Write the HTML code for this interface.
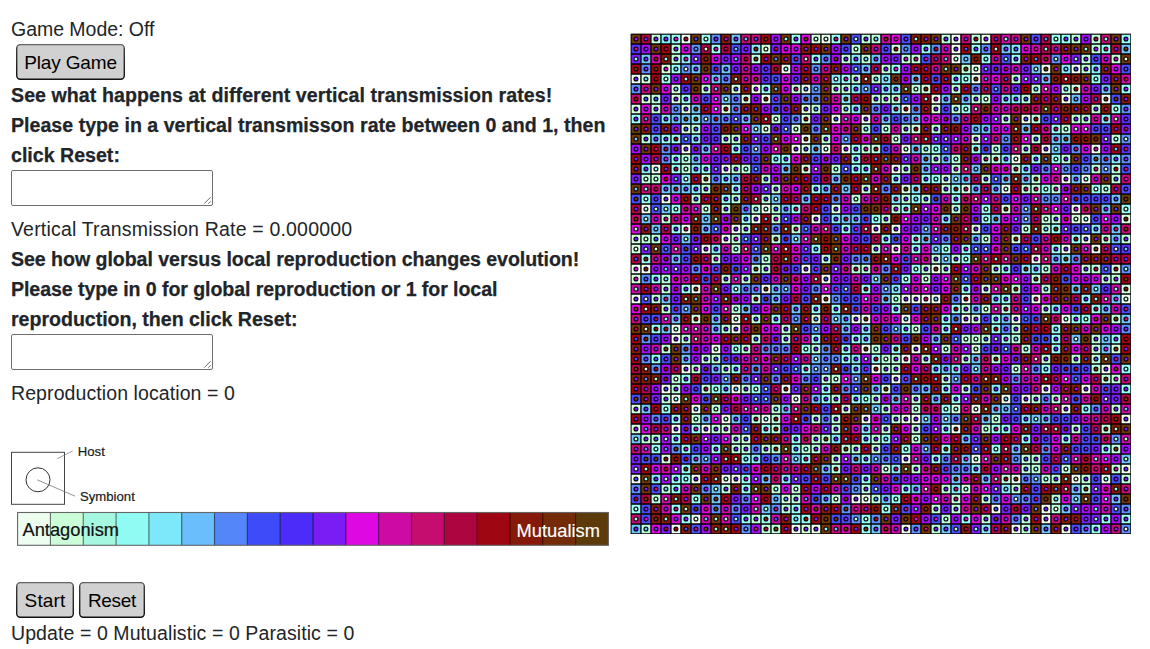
<!DOCTYPE html>
<html>
<head>
<meta charset="utf-8">
<title>Symbulation</title>
<style>
html,body{margin:0;padding:0;background:#fff;}
body{width:1150px;height:649px;position:relative;overflow:hidden;font-family:"Liberation Sans",sans-serif;color:#212529;}
.t{position:absolute;left:11px;white-space:nowrap;font-size:19px;line-height:30px;height:30px;}
.b{font-weight:700;font-size:19.6px;-webkit-text-stroke:0.25px #212529;}
.r{font-size:19.5px;}
.btn{position:absolute;height:36px;color:#000;font-size:19px;line-height:36px;text-align:center;white-space:nowrap;}
.btn svg{position:absolute;left:0;top:0;z-index:0}
.btn span{position:relative;z-index:1;top:0.9px}
.ta{position:absolute;box-sizing:border-box;border:1px solid #6e6e6e;border-radius:2px;background:#fff;left:11px;width:202px;height:36px;}
.ta svg{position:absolute;right:0;bottom:0;}
</style>
</head>
<body>
<svg width="0" height="0" style="position:absolute"><defs><linearGradient id="bg" x1="0" y1="0" x2="0" y2="1"><stop offset="0" stop-color="#666"/><stop offset="0.15" stop-color="#3a3a3a"/><stop offset="1" stop-color="#111"/></linearGradient></defs></svg>
<div class="t r" style="top:14px;letter-spacing:-0.03px">Game Mode: Off</div>
<div class="btn" style="left:16px;top:44px;width:109px;letter-spacing:-0.14px;"><svg width="109" height="36" viewBox="0 0 109 36"><rect x="0.7" y="0.6" width="107.6" height="34.6" rx="3.6" ry="3.6" fill="#d1d1d1" stroke="url(#bg)" stroke-width="1.4"/></svg><span>Play Game</span></div>
<div class="t b" style="top:80.4px;letter-spacing:0.059px">See what happens at different vertical transmission rates!</div>
<div class="t b" style="top:109.8px;letter-spacing:0.014px">Please type in a vertical transmisson rate between 0 and 1, then</div>
<div class="t b" style="top:139.8px;letter-spacing:0px">click Reset:</div>
<div class="ta" style="top:170px;"><svg width="10" height="10" viewBox="0 0 10 10"><path d="M2.2 8.6L8.7 2.1M6.3 8.6L8.7 6.4" stroke="#5a5a5a" stroke-width="0.9" fill="none"/></svg></div>
<div class="t r" style="top:214px;letter-spacing:0.186px">Vertical Transmission Rate = 0.000000</div>
<div class="t b" style="top:243.9px;letter-spacing:-0.057px">See how global versus local reproduction changes evolution!</div>
<div class="t b" style="top:273.9px;letter-spacing:-0.086px">Please type in 0 for global reproduction or 1 for local</div>
<div class="t b" style="top:303.8px;letter-spacing:-0.028px">reproduction, then click Reset:</div>
<div class="ta" style="top:334px;"><svg width="10" height="10" viewBox="0 0 10 10"><path d="M2.2 8.6L8.7 2.1M6.3 8.6L8.7 6.4" stroke="#5a5a5a" stroke-width="0.9" fill="none"/></svg></div>
<div class="t r" style="top:378px;letter-spacing:0.092px">Reproduction location = 0</div>

<!-- host / symbiont key -->
<svg style="position:absolute;left:0;top:440px" width="160" height="70" viewBox="0 440 160 70">
  <rect x="11.5" y="452.3" width="53" height="52" fill="#fff" stroke="#444" stroke-width="1"/>
  <circle cx="38" cy="479.8" r="12" fill="none" stroke="#333" stroke-width="1"/>
  <line x1="57.3" y1="458.6" x2="72.7" y2="451" stroke="#777" stroke-width="0.7"/>
  <line x1="37.1" y1="479.8" x2="75.1" y2="496.2" stroke="#666" stroke-width="0.7"/>
  <text x="77.8" y="455.9" font-family="Liberation Sans, sans-serif" font-size="13.15" fill="#1a1a1a" stroke="#1a1a1a" stroke-width="0.2">Host</text>
  <text x="80" y="500.8" font-family="Liberation Sans, sans-serif" font-size="13.15" fill="#1a1a1a" stroke="#1a1a1a" stroke-width="0.2">Symbiont</text>
</svg>

<!-- legend -->
<svg id="legend" style="position:absolute;left:16px;top:511px" width="594" height="36" viewBox="16 511 594 36">
<rect x="17.60" y="512.5" width="33.12" height="32.799999999999955" fill="#edfdf0"/>
<rect x="50.42" y="512.5" width="33.12" height="32.799999999999955" fill="#cbfdd8"/>
<rect x="83.24" y="512.5" width="33.12" height="32.799999999999955" fill="#a5f7df"/>
<rect x="116.07" y="512.5" width="33.12" height="32.799999999999955" fill="#8ffbf3"/>
<rect x="148.89" y="512.5" width="33.12" height="32.799999999999955" fill="#7de8fa"/>
<rect x="181.71" y="512.5" width="33.12" height="32.799999999999955" fill="#69befb"/>
<rect x="214.53" y="512.5" width="33.12" height="32.799999999999955" fill="#5485f9"/>
<rect x="247.36" y="512.5" width="33.12" height="32.799999999999955" fill="#3d4bf8"/>
<rect x="280.18" y="512.5" width="33.12" height="32.799999999999955" fill="#4b2cf9"/>
<rect x="313.00" y="512.5" width="33.12" height="32.799999999999955" fill="#7a1df5"/>
<rect x="345.82" y="512.5" width="33.12" height="32.799999999999955" fill="#de08e3"/>
<rect x="378.64" y="512.5" width="33.12" height="32.799999999999955" fill="#ce0aa4"/>
<rect x="411.47" y="512.5" width="33.12" height="32.799999999999955" fill="#c50c6f"/>
<rect x="444.29" y="512.5" width="33.12" height="32.799999999999955" fill="#ad0540"/>
<rect x="477.11" y="512.5" width="33.12" height="32.799999999999955" fill="#9e0612"/>
<rect x="509.93" y="512.5" width="33.12" height="32.799999999999955" fill="#85190a"/>
<rect x="542.76" y="512.5" width="33.12" height="32.799999999999955" fill="#732c07"/>
<rect x="575.58" y="512.5" width="33.12" height="32.799999999999955" fill="#5c3a09"/>
<path d="M50.42 512.5V545.3M83.24 512.5V545.3M116.07 512.5V545.3M148.89 512.5V545.3M181.71 512.5V545.3M214.53 512.5V545.3M247.36 512.5V545.3M280.18 512.5V545.3M313.00 512.5V545.3M345.82 512.5V545.3M378.64 512.5V545.3M411.47 512.5V545.3M444.29 512.5V545.3M477.11 512.5V545.3M509.93 512.5V545.3M542.76 512.5V545.3M575.58 512.5V545.3" stroke="#000" stroke-opacity="0.55" stroke-width="1.1" fill="none"/>
<rect x="17.6" y="512.5" width="590.8" height="32.799999999999955" fill="none" stroke="#666" stroke-width="1.1"/>
<text x="22.5" y="535.9" font-family="Liberation Sans, sans-serif" font-size="18.3" fill="#111" stroke="#111" stroke-width="0.2">Antagonism</text>
<text x="516.6" y="537.3" font-family="Liberation Sans, sans-serif" font-size="18.3" fill="#fff" stroke="#fff" stroke-width="0.15">Mutualism</text>
</svg>

<div class="btn" style="left:16px;top:582px;width:58px;letter-spacing:0.15px;"><svg width="58" height="36" viewBox="0 0 58 36"><rect x="0.7" y="0.6" width="56.6" height="34.6" rx="3.6" ry="3.6" fill="#d1d1d1" stroke="url(#bg)" stroke-width="1.4"/></svg><span>Start</span></div>
<div class="btn" style="left:79px;top:582px;width:66px;letter-spacing:-0.3px;"><svg width="66" height="36" viewBox="0 0 66 36"><rect x="0.7" y="0.6" width="64.6" height="34.6" rx="3.6" ry="3.6" fill="#d1d1d1" stroke="url(#bg)" stroke-width="1.4"/></svg><span>Reset</span></div>
<div class="t r" style="top:617.8px;letter-spacing:0.089px">Update = 0 Mutualistic = 0 Parasitic = 0</div>

<!-- GRID -->
<svg id="grid" style="position:absolute;left:630px;top:33px;filter:blur(0.32px)" width="502" height="502" viewBox="0 0 502 502"><svg x="0.44" y="0.5" width="500.5" height="500.5" viewBox="-0.5 -0.5 500.5 500.5" overflow="hidden">
<path fill="#EFFDF0" d="M50 0h10v10h-10zM190 0h10v10h-10zM320 0h10v10h-10zM350 0h10v10h-10zM320 10h10v10h-10zM320 20h10v10h-10zM150 30h10v10h-10zM340 30h10v10h-10zM410 30h10v10h-10zM440 30h10v10h-10zM0 40h10v10h-10zM340 40h10v10h-10zM120 50h10v10h-10zM170 50h10v10h-10zM130 60h10v10h-10zM300 60h10v10h-10zM430 60h10v10h-10zM470 60h10v10h-10zM270 70h10v10h-10zM200 80h10v10h-10zM230 80h10v10h-10zM390 80h10v10h-10zM170 100h10v10h-10zM50 110h10v10h-10zM160 110h10v10h-10zM190 110h10v10h-10zM210 110h10v10h-10zM270 110h10v10h-10zM410 110h10v10h-10zM460 110h10v10h-10zM380 120h10v10h-10zM20 130h10v10h-10zM90 130h10v10h-10zM260 130h10v10h-10zM430 140h10v10h-10zM450 140h10v10h-10zM370 150h10v10h-10zM30 160h10v10h-10zM10 170h10v10h-10zM130 170h10v10h-10zM440 170h10v10h-10zM120 180h10v10h-10zM180 180h10v10h-10zM450 180h10v10h-10zM50 190h10v10h-10zM100 190h10v10h-10zM240 190h10v10h-10zM260 190h10v10h-10zM90 200h10v10h-10zM450 200h10v10h-10zM70 210h10v10h-10zM260 210h10v10h-10zM430 210h10v10h-10zM460 210h10v10h-10zM400 220h10v10h-10zM0 230h10v10h-10zM10 230h10v10h-10zM170 230h10v10h-10zM300 230h10v10h-10zM190 240h10v10h-10zM60 250h10v10h-10zM130 250h10v10h-10zM0 260h10v10h-10zM190 260h10v10h-10zM270 260h10v10h-10zM280 260h10v10h-10zM290 260h10v10h-10zM300 260h10v10h-10zM330 260h10v10h-10zM400 260h10v10h-10zM490 260h10v10h-10zM100 280h10v10h-10zM220 280h10v10h-10zM230 280h10v10h-10zM270 280h10v10h-10zM330 280h10v10h-10zM380 280h10v10h-10zM430 280h10v10h-10zM40 290h10v10h-10zM100 290h10v10h-10zM40 300h10v10h-10zM80 310h10v10h-10zM230 310h10v10h-10zM280 310h10v10h-10zM270 320h10v10h-10zM50 330h10v10h-10zM240 330h10v10h-10zM470 330h10v10h-10zM260 340h10v10h-10zM30 350h10v10h-10zM100 350h10v10h-10zM150 350h10v10h-10zM410 350h10v10h-10zM450 350h10v10h-10zM40 360h10v10h-10zM160 360h10v10h-10zM370 360h10v10h-10zM390 360h10v10h-10zM60 370h10v10h-10zM340 370h10v10h-10zM430 370h10v10h-10zM90 380h10v10h-10zM130 380h10v10h-10zM230 380h10v10h-10zM270 380h10v10h-10zM280 380h10v10h-10zM490 380h10v10h-10zM40 390h10v10h-10zM70 390h10v10h-10zM320 390h10v10h-10zM270 420h10v10h-10zM340 420h10v10h-10zM490 430h10v10h-10zM0 440h10v10h-10zM60 440h10v10h-10zM90 440h10v10h-10zM100 440h10v10h-10zM380 440h10v10h-10zM440 440h10v10h-10zM470 440h10v10h-10zM220 460h10v10h-10zM230 460h10v10h-10zM360 470h10v10h-10zM410 470h10v10h-10zM60 480h10v10h-10zM410 480h10v10h-10zM40 490h10v10h-10zM160 490h10v10h-10zM180 490h10v10h-10zM270 490h10v10h-10zM380 490h10v10h-10zM430 490h10v10h-10z"/>
<path fill="#D4FFDD" d="M180 0h10v10h-10zM130 10h10v10h-10zM260 10h10v10h-10zM30 30h10v10h-10zM10 40h10v10h-10zM40 50h10v10h-10zM100 50h10v10h-10zM290 50h10v10h-10zM440 50h10v10h-10zM10 60h10v10h-10zM40 60h10v10h-10zM110 60h10v10h-10zM0 70h10v10h-10zM50 70h10v10h-10zM90 70h10v10h-10zM170 70h10v10h-10zM300 70h10v10h-10zM170 80h10v10h-10zM50 90h10v10h-10zM130 90h10v10h-10zM160 90h10v10h-10zM280 90h10v10h-10zM340 100h10v10h-10zM170 110h10v10h-10zM170 130h10v10h-10zM70 140h10v10h-10zM310 140h10v10h-10zM270 150h10v10h-10zM330 150h10v10h-10zM200 170h10v10h-10zM370 170h10v10h-10zM440 180h10v10h-10zM490 180h10v10h-10zM340 190h10v10h-10zM0 200h10v10h-10zM380 200h10v10h-10zM0 210h10v10h-10zM480 230h10v10h-10zM0 240h10v10h-10zM350 250h10v10h-10zM490 250h10v10h-10zM60 280h10v10h-10zM180 280h10v10h-10zM340 280h10v10h-10zM340 310h10v10h-10zM480 310h10v10h-10zM250 350h10v10h-10zM0 370h10v10h-10zM210 370h10v10h-10zM320 370h10v10h-10zM0 390h10v10h-10zM90 390h10v10h-10zM110 400h10v10h-10zM30 420h10v10h-10zM330 450h10v10h-10zM150 460h10v10h-10zM170 490h10v10h-10z"/>
<path fill="#BBFFDB" d="M20 0h10v10h-10zM230 0h10v10h-10zM240 0h10v10h-10zM310 0h10v10h-10zM340 0h10v10h-10zM440 0h10v10h-10zM460 0h10v10h-10zM40 10h10v10h-10zM220 10h10v10h-10zM460 10h10v10h-10zM40 20h10v10h-10zM120 20h10v10h-10zM210 20h10v10h-10zM230 20h10v10h-10zM270 20h10v10h-10zM280 20h10v10h-10zM450 20h10v10h-10zM480 20h10v10h-10zM250 30h10v10h-10zM330 30h10v10h-10zM450 30h10v10h-10zM220 40h10v10h-10zM240 40h10v10h-10zM380 40h10v10h-10zM70 50h10v10h-10zM160 50h10v10h-10zM200 50h10v10h-10zM210 50h10v10h-10zM280 50h10v10h-10zM320 50h10v10h-10zM400 50h10v10h-10zM430 50h10v10h-10zM20 60h10v10h-10zM240 60h10v10h-10zM250 60h10v10h-10zM260 60h10v10h-10zM340 60h10v10h-10zM350 60h10v10h-10zM390 60h10v10h-10zM20 70h10v10h-10zM180 70h10v10h-10zM210 70h10v10h-10zM320 70h10v10h-10zM460 70h10v10h-10zM140 80h10v10h-10zM370 80h10v10h-10zM400 80h10v10h-10zM440 80h10v10h-10zM450 80h10v10h-10zM60 90h10v10h-10zM230 90h10v10h-10zM250 90h10v10h-10zM270 90h10v10h-10zM300 90h10v10h-10zM430 90h10v10h-10zM10 100h10v10h-10zM90 100h10v10h-10zM100 100h10v10h-10zM190 100h10v10h-10zM260 100h10v10h-10zM400 100h10v10h-10zM480 100h10v10h-10zM230 110h10v10h-10zM240 110h10v10h-10zM290 110h10v10h-10zM360 110h10v10h-10zM390 110h10v10h-10zM50 120h10v10h-10zM300 120h10v10h-10zM320 120h10v10h-10zM350 120h10v10h-10zM360 120h10v10h-10zM430 120h10v10h-10zM50 130h10v10h-10zM100 130h10v10h-10zM110 130h10v10h-10zM200 130h10v10h-10zM270 130h10v10h-10zM320 130h10v10h-10zM380 130h10v10h-10zM460 130h10v10h-10zM480 130h10v10h-10zM10 140h10v10h-10zM20 140h10v10h-10zM130 140h10v10h-10zM350 140h10v10h-10zM400 140h10v10h-10zM480 140h10v10h-10zM70 150h10v10h-10zM140 150h10v10h-10zM230 150h10v10h-10zM310 150h10v10h-10zM390 150h10v10h-10zM400 150h10v10h-10zM420 150h10v10h-10zM470 150h10v10h-10zM60 160h10v10h-10zM100 160h10v10h-10zM130 160h10v10h-10zM220 160h10v10h-10zM270 160h10v10h-10zM290 160h10v10h-10zM70 170h10v10h-10zM90 170h10v10h-10zM120 170h10v10h-10zM140 170h10v10h-10zM260 170h10v10h-10zM320 170h10v10h-10zM30 180h10v10h-10zM140 180h10v10h-10zM250 180h10v10h-10zM410 180h10v10h-10zM420 180h10v10h-10zM110 190h10v10h-10zM160 190h10v10h-10zM390 190h10v10h-10zM410 190h10v10h-10zM10 200h10v10h-10zM20 200h10v10h-10zM100 200h10v10h-10zM140 200h10v10h-10zM350 200h10v10h-10zM470 200h10v10h-10zM490 200h10v10h-10zM100 210h10v10h-10zM240 210h10v10h-10zM80 220h10v10h-10zM130 220h10v10h-10zM190 220h10v10h-10zM300 220h10v10h-10zM320 220h10v10h-10zM120 230h10v10h-10zM130 230h10v10h-10zM220 230h10v10h-10zM230 230h10v10h-10zM290 230h10v10h-10zM310 230h10v10h-10zM360 230h10v10h-10zM410 230h10v10h-10zM450 230h10v10h-10zM460 230h10v10h-10zM30 240h10v10h-10zM90 240h10v10h-10zM110 240h10v10h-10zM290 240h10v10h-10zM400 240h10v10h-10zM470 240h10v10h-10zM480 240h10v10h-10zM30 250h10v10h-10zM380 250h10v10h-10zM410 250h10v10h-10zM20 260h10v10h-10zM120 260h10v10h-10zM260 260h10v10h-10zM30 270h10v10h-10zM100 270h10v10h-10zM330 270h10v10h-10zM350 270h10v10h-10zM370 270h10v10h-10zM410 270h10v10h-10zM120 280h10v10h-10zM480 280h10v10h-10zM90 290h10v10h-10zM150 290h10v10h-10zM280 290h10v10h-10zM380 290h10v10h-10zM50 300h10v10h-10zM120 300h10v10h-10zM150 300h10v10h-10zM330 300h10v10h-10zM340 300h10v10h-10zM350 300h10v10h-10zM380 300h10v10h-10zM460 300h10v10h-10zM30 310h10v10h-10zM110 310h10v10h-10zM180 310h10v10h-10zM240 310h10v10h-10zM310 310h10v10h-10zM390 310h10v10h-10zM460 310h10v10h-10zM70 320h10v10h-10zM80 320h10v10h-10zM250 320h10v10h-10zM260 320h10v10h-10zM290 320h10v10h-10zM330 320h10v10h-10zM360 320h10v10h-10zM410 320h10v10h-10zM440 320h10v10h-10zM460 320h10v10h-10zM60 330h10v10h-10zM90 330h10v10h-10zM250 330h10v10h-10zM260 330h10v10h-10zM380 330h10v10h-10zM460 330h10v10h-10zM40 340h10v10h-10zM190 340h10v10h-10zM200 340h10v10h-10zM310 340h10v10h-10zM470 340h10v10h-10zM480 340h10v10h-10zM40 350h10v10h-10zM70 350h10v10h-10zM110 350h10v10h-10zM330 350h10v10h-10zM30 360h10v10h-10zM200 360h10v10h-10zM240 360h10v10h-10zM280 360h10v10h-10zM400 360h10v10h-10zM420 360h10v10h-10zM80 370h10v10h-10zM140 370h10v10h-10zM250 370h10v10h-10zM280 370h10v10h-10zM480 370h10v10h-10zM60 380h10v10h-10zM120 380h10v10h-10zM140 380h10v10h-10zM180 380h10v10h-10zM200 380h10v10h-10zM260 380h10v10h-10zM360 380h10v10h-10zM80 390h10v10h-10zM140 390h10v10h-10zM200 390h10v10h-10zM250 390h10v10h-10zM280 390h10v10h-10zM350 390h10v10h-10zM440 390h10v10h-10zM470 390h10v10h-10zM10 400h10v10h-10zM20 400h10v10h-10zM100 400h10v10h-10zM180 400h10v10h-10zM190 400h10v10h-10zM240 400h10v10h-10zM280 400h10v10h-10zM100 410h10v10h-10zM110 410h10v10h-10zM130 410h10v10h-10zM140 410h10v10h-10zM170 410h10v10h-10zM180 410h10v10h-10zM210 410h10v10h-10zM220 410h10v10h-10zM240 410h10v10h-10zM480 410h10v10h-10zM200 420h10v10h-10zM390 420h10v10h-10zM400 420h10v10h-10zM200 430h10v10h-10zM250 430h10v10h-10zM280 430h10v10h-10zM390 430h10v10h-10zM400 430h10v10h-10zM430 430h10v10h-10zM480 430h10v10h-10zM370 440h10v10h-10zM410 440h10v10h-10zM420 440h10v10h-10zM450 440h10v10h-10zM490 440h10v10h-10zM30 450h10v10h-10zM90 450h10v10h-10zM140 450h10v10h-10zM160 450h10v10h-10zM230 450h10v10h-10zM310 450h10v10h-10zM380 450h10v10h-10zM450 450h10v10h-10zM20 460h10v10h-10zM160 460h10v10h-10zM200 460h10v10h-10zM240 460h10v10h-10zM320 460h10v10h-10zM350 460h10v10h-10zM420 460h10v10h-10zM150 470h10v10h-10zM300 470h10v10h-10zM320 470h10v10h-10zM420 470h10v10h-10zM120 480h10v10h-10zM310 480h10v10h-10zM350 480h10v10h-10zM390 480h10v10h-10zM10 490h10v10h-10zM130 490h10v10h-10zM140 490h10v10h-10zM300 490h10v10h-10zM390 490h10v10h-10z"/>
<path fill="#96FFF7" d="M40 0h10v10h-10zM70 0h10v10h-10zM160 0h10v10h-10zM200 0h10v10h-10zM420 0h10v10h-10zM430 0h10v10h-10zM490 0h10v10h-10zM80 10h10v10h-10zM290 10h10v10h-10zM340 10h10v10h-10zM470 10h10v10h-10zM180 20h10v10h-10zM350 20h10v10h-10zM380 20h10v10h-10zM40 30h10v10h-10zM260 30h10v10h-10zM30 40h10v10h-10zM210 40h10v10h-10zM320 40h10v10h-10zM330 40h10v10h-10zM460 40h10v10h-10zM130 50h10v10h-10zM490 50h10v10h-10zM50 60h10v10h-10zM330 70h10v10h-10zM480 70h10v10h-10zM0 80h10v10h-10zM420 90h10v10h-10zM30 100h10v10h-10zM40 100h10v10h-10zM100 110h10v10h-10zM220 110h10v10h-10zM300 110h10v10h-10zM340 110h10v10h-10zM40 120h10v10h-10zM140 120h10v10h-10zM150 120h10v10h-10zM220 120h10v10h-10zM400 120h10v10h-10zM420 120h10v10h-10zM40 130h10v10h-10zM70 130h10v10h-10zM220 130h10v10h-10zM230 130h10v10h-10zM260 140h10v10h-10zM290 140h10v10h-10zM300 140h10v10h-10zM100 150h10v10h-10zM180 150h10v10h-10zM320 150h10v10h-10zM410 150h10v10h-10zM460 150h10v10h-10zM10 160h10v10h-10zM90 160h10v10h-10zM280 160h10v10h-10zM320 160h10v10h-10zM40 170h10v10h-10zM160 170h10v10h-10zM270 170h10v10h-10zM350 170h10v10h-10zM490 170h10v10h-10zM110 180h10v10h-10zM240 180h10v10h-10zM350 180h10v10h-10zM40 190h10v10h-10zM210 190h10v10h-10zM420 190h10v10h-10zM250 200h10v10h-10zM280 200h10v10h-10zM440 200h10v10h-10zM180 210h10v10h-10zM280 210h10v10h-10zM310 210h10v10h-10zM330 210h10v10h-10zM420 210h10v10h-10zM10 220h10v10h-10zM330 220h10v10h-10zM280 230h10v10h-10zM370 230h10v10h-10zM20 240h10v10h-10zM270 240h10v10h-10zM50 250h10v10h-10zM230 250h10v10h-10zM330 250h10v10h-10zM370 260h10v10h-10zM450 260h10v10h-10zM180 270h10v10h-10zM200 270h10v10h-10zM260 270h10v10h-10zM320 270h10v10h-10zM460 270h10v10h-10zM140 280h10v10h-10zM310 280h10v10h-10zM360 280h10v10h-10zM440 280h10v10h-10zM450 280h10v10h-10zM20 290h10v10h-10zM270 290h10v10h-10zM310 290h10v10h-10zM360 290h10v10h-10zM420 290h10v10h-10zM180 300h10v10h-10zM220 300h10v10h-10zM370 300h10v10h-10zM420 300h10v10h-10zM480 300h10v10h-10zM100 310h10v10h-10zM170 310h10v10h-10zM210 310h10v10h-10zM260 310h10v10h-10zM420 310h10v10h-10zM20 320h10v10h-10zM210 320h10v10h-10zM240 320h10v10h-10zM100 330h10v10h-10zM170 330h10v10h-10zM410 330h10v10h-10zM490 330h10v10h-10zM50 340h10v10h-10zM80 350h10v10h-10zM120 350h10v10h-10zM190 350h10v10h-10zM310 350h10v10h-10zM490 350h10v10h-10zM190 360h10v10h-10zM220 360h10v10h-10zM230 360h10v10h-10zM320 360h10v10h-10zM30 370h10v10h-10zM310 370h10v10h-10zM450 370h10v10h-10zM40 380h10v10h-10zM60 390h10v10h-10zM130 390h10v10h-10zM310 390h10v10h-10zM360 390h10v10h-10zM370 390h10v10h-10zM40 400h10v10h-10zM160 400h10v10h-10zM230 400h10v10h-10zM250 400h10v10h-10zM390 400h10v10h-10zM430 400h10v10h-10zM20 410h10v10h-10zM50 410h10v10h-10zM80 410h10v10h-10zM160 410h10v10h-10zM270 410h10v10h-10zM310 410h10v10h-10zM360 410h10v10h-10zM470 410h10v10h-10zM110 420h10v10h-10zM170 420h10v10h-10zM230 420h10v10h-10zM300 420h10v10h-10zM50 430h10v10h-10zM40 440h10v10h-10zM50 440h10v10h-10zM110 440h10v10h-10zM230 440h10v10h-10zM40 450h10v10h-10zM110 450h10v10h-10zM270 450h10v10h-10zM60 460h10v10h-10zM260 460h10v10h-10zM0 470h10v10h-10zM40 470h10v10h-10zM160 470h10v10h-10zM250 470h10v10h-10zM50 480h10v10h-10zM110 480h10v10h-10zM130 480h10v10h-10zM160 480h10v10h-10zM170 480h10v10h-10zM230 480h10v10h-10zM330 480h10v10h-10zM470 480h10v10h-10zM490 480h10v10h-10zM230 490h10v10h-10zM460 490h10v10h-10z"/>
<path fill="#86E9FE" d="M30 0h10v10h-10zM120 10h10v10h-10zM380 10h10v10h-10zM50 20h10v10h-10zM220 20h10v10h-10zM430 30h10v10h-10zM460 30h10v10h-10zM200 40h10v10h-10zM250 40h10v10h-10zM220 50h10v10h-10zM250 50h10v10h-10zM260 50h10v10h-10zM210 60h10v10h-10zM370 60h10v10h-10zM380 60h10v10h-10zM220 70h10v10h-10zM260 70h10v10h-10zM30 80h10v10h-10zM60 80h10v10h-10zM470 80h10v10h-10zM60 100h10v10h-10zM370 120h10v10h-10zM480 120h10v10h-10zM10 130h10v10h-10zM60 130h10v10h-10zM390 130h10v10h-10zM50 140h10v10h-10zM90 140h10v10h-10zM60 150h10v10h-10zM280 150h10v10h-10zM260 160h10v10h-10zM200 180h10v10h-10zM310 180h10v10h-10zM460 190h10v10h-10zM80 210h10v10h-10zM430 220h10v10h-10zM390 230h10v10h-10zM400 230h10v10h-10zM100 250h10v10h-10zM260 250h10v10h-10zM360 260h10v10h-10zM420 270h10v10h-10zM230 290h10v10h-10zM230 300h10v10h-10zM220 320h10v10h-10zM220 330h10v10h-10zM300 330h10v10h-10zM320 330h10v10h-10zM90 350h10v10h-10zM360 350h10v10h-10zM390 380h10v10h-10zM230 390h10v10h-10zM200 400h10v10h-10zM120 420h10v10h-10zM260 430h10v10h-10zM340 430h10v10h-10zM20 440h10v10h-10zM150 440h10v10h-10zM320 450h10v10h-10zM370 450h10v10h-10zM350 490h10v10h-10z"/>
<path fill="#6FC4FE" d="M100 0h10v10h-10zM370 10h10v10h-10zM490 10h10v10h-10zM10 20h10v10h-10zM240 20h10v10h-10zM330 20h10v10h-10zM60 30h10v10h-10zM90 30h10v10h-10zM230 30h10v10h-10zM400 30h10v10h-10zM80 40h10v10h-10zM280 40h10v10h-10zM410 40h10v10h-10zM470 50h10v10h-10zM90 60h10v10h-10zM310 60h10v10h-10zM330 60h10v10h-10zM440 60h10v10h-10zM60 70h10v10h-10zM40 80h10v10h-10zM50 80h10v10h-10zM110 80h10v10h-10zM250 80h10v10h-10zM280 80h10v10h-10zM120 90h10v10h-10zM340 90h10v10h-10zM350 90h10v10h-10zM390 90h10v10h-10zM20 100h10v10h-10zM420 100h10v10h-10zM430 100h10v10h-10zM70 110h10v10h-10zM180 110h10v10h-10zM280 110h10v10h-10zM420 110h10v10h-10zM60 120h10v10h-10zM290 120h10v10h-10zM310 120h10v10h-10zM460 120h10v10h-10zM150 130h10v10h-10zM290 130h10v10h-10zM340 130h10v10h-10zM100 140h10v10h-10zM200 140h10v10h-10zM320 140h10v10h-10zM330 140h10v10h-10zM370 140h10v10h-10zM390 140h10v10h-10zM440 140h10v10h-10zM30 150h10v10h-10zM40 150h10v10h-10zM50 150h10v10h-10zM190 150h10v10h-10zM210 150h10v10h-10zM340 150h10v10h-10zM360 150h10v10h-10zM140 160h10v10h-10zM170 160h10v10h-10zM480 160h10v10h-10zM30 170h10v10h-10zM150 170h10v10h-10zM470 170h10v10h-10zM10 180h10v10h-10zM70 180h10v10h-10zM210 180h10v10h-10zM220 180h10v10h-10zM360 180h10v10h-10zM20 190h10v10h-10zM70 190h10v10h-10zM480 190h10v10h-10zM50 200h10v10h-10zM160 200h10v10h-10zM290 200h10v10h-10zM340 200h10v10h-10zM480 200h10v10h-10zM300 210h10v10h-10zM40 220h10v10h-10zM310 220h10v10h-10zM420 220h10v10h-10zM240 240h10v10h-10zM140 250h10v10h-10zM440 250h10v10h-10zM460 250h10v10h-10zM30 260h10v10h-10zM140 260h10v10h-10zM250 260h10v10h-10zM480 260h10v10h-10zM110 270h10v10h-10zM160 270h10v10h-10zM340 270h10v10h-10zM470 270h10v10h-10zM40 280h10v10h-10zM80 280h10v10h-10zM200 280h10v10h-10zM210 280h10v10h-10zM370 280h10v10h-10zM490 280h10v10h-10zM30 290h10v10h-10zM80 290h10v10h-10zM210 290h10v10h-10zM300 300h10v10h-10zM440 300h10v10h-10zM470 300h10v10h-10zM470 310h10v10h-10zM50 320h10v10h-10zM180 320h10v10h-10zM340 320h10v10h-10zM80 330h10v10h-10zM310 330h10v10h-10zM340 330h10v10h-10zM240 350h10v10h-10zM290 350h10v10h-10zM180 360h10v10h-10zM260 360h10v10h-10zM300 360h10v10h-10zM10 370h10v10h-10zM150 370h10v10h-10zM240 370h10v10h-10zM360 370h10v10h-10zM370 370h10v10h-10zM70 380h10v10h-10zM100 380h10v10h-10zM290 380h10v10h-10zM310 380h10v10h-10zM350 380h10v10h-10zM400 380h10v10h-10zM410 380h10v10h-10zM0 400h10v10h-10zM330 400h10v10h-10zM380 410h10v10h-10zM60 420h10v10h-10zM160 420h10v10h-10zM220 420h10v10h-10zM330 420h10v10h-10zM490 420h10v10h-10zM190 430h10v10h-10zM130 440h10v10h-10zM320 440h10v10h-10zM350 440h10v10h-10zM80 450h10v10h-10zM280 450h10v10h-10zM440 450h10v10h-10zM80 460h10v10h-10zM140 460h10v10h-10zM190 460h10v10h-10zM250 460h10v10h-10zM440 460h10v10h-10zM480 460h10v10h-10zM130 470h10v10h-10zM430 470h10v10h-10zM0 490h10v10h-10zM240 490h10v10h-10zM310 490h10v10h-10zM410 490h10v10h-10z"/>
<path fill="#5E8EFF" d="M80 0h10v10h-10zM60 10h10v10h-10zM270 10h10v10h-10zM300 10h10v10h-10zM350 10h10v10h-10zM190 20h10v10h-10zM420 20h10v10h-10zM10 30h10v10h-10zM50 30h10v10h-10zM180 30h10v10h-10zM90 40h10v10h-10zM0 50h10v10h-10zM180 50h10v10h-10zM230 50h10v10h-10zM340 50h10v10h-10zM100 60h10v10h-10zM170 60h10v10h-10zM180 60h10v10h-10zM40 70h10v10h-10zM100 70h10v10h-10zM240 70h10v10h-10zM280 70h10v10h-10zM490 70h10v10h-10zM70 80h10v10h-10zM80 80h10v10h-10zM90 80h10v10h-10zM160 80h10v10h-10zM270 80h10v10h-10zM320 80h10v10h-10zM180 90h10v10h-10zM210 100h10v10h-10zM370 100h10v10h-10zM490 100h10v10h-10zM30 110h10v10h-10zM120 110h10v10h-10zM440 110h10v10h-10zM30 120h10v10h-10zM470 120h10v10h-10zM490 120h10v10h-10zM410 130h10v10h-10zM430 130h10v10h-10zM450 130h10v10h-10zM470 130h10v10h-10zM80 140h10v10h-10zM250 150h10v10h-10zM200 160h10v10h-10zM410 160h10v10h-10zM420 160h10v10h-10zM110 170h10v10h-10zM390 170h10v10h-10zM390 180h10v10h-10zM140 190h10v10h-10zM290 190h10v10h-10zM310 200h10v10h-10zM120 220h10v10h-10zM220 220h10v10h-10zM230 220h10v10h-10zM440 220h10v10h-10zM60 230h10v10h-10zM250 230h10v10h-10zM490 230h10v10h-10zM10 240h10v10h-10zM110 250h10v10h-10zM120 250h10v10h-10zM150 250h10v10h-10zM180 250h10v10h-10zM250 250h10v10h-10zM200 260h10v10h-10zM320 260h10v10h-10zM50 270h10v10h-10zM160 280h10v10h-10zM320 280h10v10h-10zM180 290h10v10h-10zM260 290h10v10h-10zM370 290h10v10h-10zM490 290h10v10h-10zM10 300h10v10h-10zM50 310h10v10h-10zM130 310h10v10h-10zM140 310h10v10h-10zM150 310h10v10h-10zM190 310h10v10h-10zM10 320h10v10h-10zM190 320h10v10h-10zM200 320h10v10h-10zM20 330h10v10h-10zM120 330h10v10h-10zM180 330h10v10h-10zM190 330h10v10h-10zM400 330h10v10h-10zM90 340h10v10h-10zM110 340h10v10h-10zM140 340h10v10h-10zM170 340h10v10h-10zM220 340h10v10h-10zM320 340h10v10h-10zM380 340h10v10h-10zM210 350h10v10h-10zM280 350h10v10h-10zM410 360h10v10h-10zM460 370h10v10h-10zM20 380h10v10h-10zM190 380h10v10h-10zM320 380h10v10h-10zM480 400h10v10h-10zM40 410h10v10h-10zM120 410h10v10h-10zM290 410h10v10h-10zM410 410h10v10h-10zM70 420h10v10h-10zM140 420h10v10h-10zM240 420h10v10h-10zM250 420h10v10h-10zM310 420h10v10h-10zM380 420h10v10h-10zM320 430h10v10h-10zM330 430h10v10h-10zM390 440h10v10h-10zM400 440h10v10h-10zM0 450h10v10h-10zM70 450h10v10h-10zM220 450h10v10h-10zM110 460h10v10h-10zM360 460h10v10h-10zM380 460h10v10h-10zM390 460h10v10h-10zM80 470h10v10h-10zM100 470h10v10h-10zM140 470h10v10h-10zM210 470h10v10h-10zM490 470h10v10h-10zM220 480h10v10h-10zM240 480h10v10h-10zM380 480h10v10h-10zM110 490h10v10h-10zM280 490h10v10h-10zM450 490h10v10h-10zM490 490h10v10h-10z"/>
<path fill="#4B4CFF" d="M220 0h10v10h-10zM270 0h10v10h-10zM400 0h10v10h-10zM100 10h10v10h-10zM210 10h10v10h-10zM250 10h10v10h-10zM160 20h10v10h-10zM290 20h10v10h-10zM370 20h10v10h-10zM460 20h10v10h-10zM80 30h10v10h-10zM220 30h10v10h-10zM490 30h10v10h-10zM140 40h10v10h-10zM300 40h10v10h-10zM360 50h10v10h-10zM70 60h10v10h-10zM140 60h10v10h-10zM270 60h10v10h-10zM480 60h10v10h-10zM140 70h10v10h-10zM310 70h10v10h-10zM20 80h10v10h-10zM100 80h10v10h-10zM150 80h10v10h-10zM260 80h10v10h-10zM410 80h10v10h-10zM20 90h10v10h-10zM80 90h10v10h-10zM150 90h10v10h-10zM240 90h10v10h-10zM460 90h10v10h-10zM470 90h10v10h-10zM50 100h10v10h-10zM130 100h10v10h-10zM110 110h10v10h-10zM250 110h10v10h-10zM310 110h10v10h-10zM350 110h10v10h-10zM370 110h10v10h-10zM120 120h10v10h-10zM180 120h10v10h-10zM450 120h10v10h-10zM120 130h10v10h-10zM210 130h10v10h-10zM440 130h10v10h-10zM490 130h10v10h-10zM360 140h10v10h-10zM490 150h10v10h-10zM0 160h10v10h-10zM20 160h10v10h-10zM300 160h10v10h-10zM370 160h10v10h-10zM440 160h10v10h-10zM450 160h10v10h-10zM460 160h10v10h-10zM470 160h10v10h-10zM20 170h10v10h-10zM190 170h10v10h-10zM220 170h10v10h-10zM190 180h10v10h-10zM230 180h10v10h-10zM460 180h10v10h-10zM80 190h10v10h-10zM170 190h10v10h-10zM200 190h10v10h-10zM220 190h10v10h-10zM350 190h10v10h-10zM440 190h10v10h-10zM450 190h10v10h-10zM110 200h10v10h-10zM150 200h10v10h-10zM230 200h10v10h-10zM260 200h10v10h-10zM400 200h10v10h-10zM30 210h10v10h-10zM50 210h10v10h-10zM120 210h10v10h-10zM340 210h10v10h-10zM350 210h10v10h-10zM380 210h10v10h-10zM390 210h10v10h-10zM480 210h10v10h-10zM50 220h10v10h-10zM170 220h10v10h-10zM270 220h10v10h-10zM80 230h10v10h-10zM100 230h10v10h-10zM160 230h10v10h-10zM180 230h10v10h-10zM470 230h10v10h-10zM70 240h10v10h-10zM260 240h10v10h-10zM330 240h10v10h-10zM430 240h10v10h-10zM200 250h10v10h-10zM210 250h10v10h-10zM10 260h10v10h-10zM130 260h10v10h-10zM170 260h10v10h-10zM210 260h10v10h-10zM220 260h10v10h-10zM390 260h10v10h-10zM40 270h10v10h-10zM80 270h10v10h-10zM220 270h10v10h-10zM240 270h10v10h-10zM280 270h10v10h-10zM440 270h10v10h-10zM490 270h10v10h-10zM10 280h10v10h-10zM20 280h10v10h-10zM350 280h10v10h-10zM390 280h10v10h-10zM400 280h10v10h-10zM170 290h10v10h-10zM250 290h10v10h-10zM290 290h10v10h-10zM20 300h10v10h-10zM210 300h10v10h-10zM270 300h10v10h-10zM320 300h10v10h-10zM400 300h10v10h-10zM410 300h10v10h-10zM350 310h10v10h-10zM370 310h10v10h-10zM30 320h10v10h-10zM90 320h10v10h-10zM480 320h10v10h-10zM150 330h10v10h-10zM160 330h10v10h-10zM210 330h10v10h-10zM230 330h10v10h-10zM430 330h10v10h-10zM440 330h10v10h-10zM450 330h10v10h-10zM70 340h10v10h-10zM180 340h10v10h-10zM250 340h10v10h-10zM270 340h10v10h-10zM440 340h10v10h-10zM60 350h10v10h-10zM130 350h10v10h-10zM220 350h10v10h-10zM260 350h10v10h-10zM340 350h10v10h-10zM470 350h10v10h-10zM0 360h10v10h-10zM70 360h10v10h-10zM120 360h10v10h-10zM130 360h10v10h-10zM380 360h10v10h-10zM440 360h10v10h-10zM190 370h10v10h-10zM380 370h10v10h-10zM30 380h10v10h-10zM110 380h10v10h-10zM170 380h10v10h-10zM250 380h10v10h-10zM380 380h10v10h-10zM420 380h10v10h-10zM430 380h10v10h-10zM110 390h10v10h-10zM290 390h10v10h-10zM450 390h10v10h-10zM410 400h10v10h-10zM450 400h10v10h-10zM460 400h10v10h-10zM60 410h10v10h-10zM250 410h10v10h-10zM340 410h10v10h-10zM440 410h10v10h-10zM450 410h10v10h-10zM10 420h10v10h-10zM20 420h10v10h-10zM50 420h10v10h-10zM130 420h10v10h-10zM260 420h10v10h-10zM410 420h10v10h-10zM430 420h10v10h-10zM110 430h10v10h-10zM310 430h10v10h-10zM420 430h10v10h-10zM170 440h10v10h-10zM190 440h10v10h-10zM220 440h10v10h-10zM260 440h10v10h-10zM460 440h10v10h-10zM480 440h10v10h-10zM20 450h10v10h-10zM210 450h10v10h-10zM240 450h10v10h-10zM400 450h10v10h-10zM0 460h10v10h-10zM180 460h10v10h-10zM400 460h10v10h-10zM460 460h10v10h-10zM10 470h10v10h-10zM60 470h10v10h-10zM270 470h10v10h-10zM480 470h10v10h-10zM10 480h10v10h-10zM100 480h10v10h-10zM200 480h10v10h-10zM210 480h10v10h-10zM300 480h10v10h-10zM60 490h10v10h-10zM320 490h10v10h-10zM440 490h10v10h-10z"/>
<path fill="#5731FD" d="M0 10h10v10h-10zM130 30h10v10h-10zM130 40h10v10h-10zM50 50h10v10h-10zM490 80h10v10h-10zM80 100h10v10h-10zM490 110h10v10h-10zM180 140h10v10h-10zM150 180h10v10h-10zM490 210h10v10h-10zM380 230h10v10h-10zM130 240h10v10h-10zM470 250h10v10h-10z"/>
<path fill="#7B1DFF" d="M110 10h10v10h-10zM140 10h10v10h-10zM0 20h10v10h-10zM60 20h10v10h-10zM90 20h10v10h-10zM260 20h10v10h-10zM440 20h10v10h-10zM100 30h10v10h-10zM350 30h10v10h-10zM360 30h10v10h-10zM390 30h10v10h-10zM160 40h10v10h-10zM400 40h10v10h-10zM470 40h10v10h-10zM240 50h10v10h-10zM380 50h10v10h-10zM460 50h10v10h-10zM30 60h10v10h-10zM150 70h10v10h-10zM190 70h10v10h-10zM250 70h10v10h-10zM180 80h10v10h-10zM420 80h10v10h-10zM40 90h10v10h-10zM140 90h10v10h-10zM490 90h10v10h-10zM70 100h10v10h-10zM120 100h10v10h-10zM270 100h10v10h-10zM300 100h10v10h-10zM310 100h10v10h-10zM470 100h10v10h-10zM40 110h10v10h-10zM60 110h10v10h-10zM430 110h10v10h-10zM80 120h10v10h-10zM90 120h10v10h-10zM110 120h10v10h-10zM200 120h10v10h-10zM270 120h10v10h-10zM80 130h10v10h-10zM400 130h10v10h-10zM0 140h10v10h-10zM40 140h10v10h-10zM270 140h10v10h-10zM130 150h10v10h-10zM390 160h10v10h-10zM430 170h10v10h-10zM290 180h10v10h-10zM340 180h10v10h-10zM280 190h10v10h-10zM380 190h10v10h-10zM430 190h10v10h-10zM40 200h10v10h-10zM60 200h10v10h-10zM120 200h10v10h-10zM220 200h10v10h-10zM300 200h10v10h-10zM10 210h10v10h-10zM60 210h10v10h-10zM170 210h10v10h-10zM90 220h10v10h-10zM180 220h10v10h-10zM210 220h10v10h-10zM40 230h10v10h-10zM150 230h10v10h-10zM200 230h10v10h-10zM270 230h10v10h-10zM210 240h10v10h-10zM230 240h10v10h-10zM90 250h10v10h-10zM170 250h10v10h-10zM300 250h10v10h-10zM390 250h10v10h-10zM40 260h10v10h-10zM150 260h10v10h-10zM120 270h10v10h-10zM330 290h10v10h-10zM140 300h10v10h-10zM360 300h10v10h-10zM250 310h10v10h-10zM360 310h10v10h-10zM100 320h10v10h-10zM310 320h10v10h-10zM380 320h10v10h-10zM70 330h10v10h-10zM140 330h10v10h-10zM330 330h10v10h-10zM370 330h10v10h-10zM420 330h10v10h-10zM30 340h10v10h-10zM80 340h10v10h-10zM120 340h10v10h-10zM160 350h10v10h-10zM390 350h10v10h-10zM480 350h10v10h-10zM20 360h10v10h-10zM110 360h10v10h-10zM470 360h10v10h-10zM480 360h10v10h-10zM90 370h10v10h-10zM370 380h10v10h-10zM440 380h10v10h-10zM50 390h10v10h-10zM150 390h10v10h-10zM160 390h10v10h-10zM190 390h10v10h-10zM400 390h10v10h-10zM430 390h10v10h-10zM80 400h10v10h-10zM340 400h10v10h-10zM460 410h10v10h-10zM0 420h10v10h-10zM290 420h10v10h-10zM0 430h10v10h-10zM90 430h10v10h-10zM100 430h10v10h-10zM210 430h10v10h-10zM230 430h10v10h-10zM160 440h10v10h-10zM250 450h10v10h-10zM360 450h10v10h-10zM460 450h10v10h-10zM100 460h10v10h-10zM110 470h10v10h-10zM310 470h10v10h-10zM370 470h10v10h-10zM390 470h10v10h-10zM440 470h10v10h-10zM260 480h10v10h-10zM360 480h10v10h-10zM450 480h10v10h-10zM460 480h10v10h-10zM30 490h10v10h-10zM340 490h10v10h-10z"/>
<path fill="#AB08FF" d="M140 0h10v10h-10zM450 0h10v10h-10zM10 10h10v10h-10zM200 10h10v10h-10zM280 10h10v10h-10zM100 20h10v10h-10zM200 20h10v10h-10zM250 20h10v10h-10zM120 30h10v10h-10zM160 30h10v10h-10zM210 30h10v10h-10zM270 30h10v10h-10zM370 30h10v10h-10zM40 40h10v10h-10zM270 40h10v10h-10zM390 40h10v10h-10zM310 50h10v10h-10zM420 50h10v10h-10zM120 60h10v10h-10zM160 60h10v10h-10zM280 60h10v10h-10zM360 60h10v10h-10zM450 60h10v10h-10zM130 70h10v10h-10zM310 80h10v10h-10zM350 80h10v10h-10zM360 80h10v10h-10zM70 90h10v10h-10zM330 90h10v10h-10zM320 100h10v10h-10zM350 100h10v10h-10zM0 110h10v10h-10zM130 110h10v10h-10zM470 110h10v10h-10zM10 120h10v10h-10zM190 120h10v10h-10zM340 120h10v10h-10zM140 130h10v10h-10zM180 130h10v10h-10zM300 130h10v10h-10zM310 130h10v10h-10zM140 140h10v10h-10zM120 150h10v10h-10zM430 150h10v10h-10zM350 160h10v10h-10zM210 170h10v10h-10zM290 170h10v10h-10zM340 170h10v10h-10zM90 180h10v10h-10zM160 180h10v10h-10zM280 180h10v10h-10zM380 180h10v10h-10zM480 180h10v10h-10zM270 190h10v10h-10zM360 200h10v10h-10zM320 210h10v10h-10zM30 220h10v10h-10zM100 220h10v10h-10zM20 230h10v10h-10zM30 230h10v10h-10zM50 230h10v10h-10zM110 230h10v10h-10zM330 230h10v10h-10zM170 240h10v10h-10zM200 240h10v10h-10zM300 240h10v10h-10zM390 240h10v10h-10zM450 240h10v10h-10zM40 250h10v10h-10zM240 250h10v10h-10zM270 250h10v10h-10zM340 250h10v10h-10zM80 260h10v10h-10zM100 260h10v10h-10zM110 260h10v10h-10zM250 270h10v10h-10zM390 270h10v10h-10zM190 290h10v10h-10zM220 290h10v10h-10zM340 290h10v10h-10zM480 290h10v10h-10zM30 300h10v10h-10zM290 300h10v10h-10zM10 310h10v10h-10zM60 310h10v10h-10zM70 310h10v10h-10zM90 310h10v10h-10zM300 310h10v10h-10zM330 310h10v10h-10zM60 320h10v10h-10zM160 320h10v10h-10zM230 320h10v10h-10zM30 330h10v10h-10zM360 330h10v10h-10zM370 340h10v10h-10zM20 350h10v10h-10zM50 350h10v10h-10zM180 350h10v10h-10zM380 350h10v10h-10zM420 350h10v10h-10zM150 360h10v10h-10zM250 360h10v10h-10zM330 360h10v10h-10zM10 380h10v10h-10zM300 380h10v10h-10zM300 390h10v10h-10zM30 400h10v10h-10zM70 400h10v10h-10zM260 400h10v10h-10zM360 400h10v10h-10zM400 400h10v10h-10zM30 410h10v10h-10zM70 410h10v10h-10zM490 410h10v10h-10zM80 420h10v10h-10zM210 420h10v10h-10zM480 420h10v10h-10zM40 430h10v10h-10zM360 430h10v10h-10zM30 440h10v10h-10zM120 440h10v10h-10zM270 440h10v10h-10zM280 440h10v10h-10zM180 450h10v10h-10zM210 460h10v10h-10zM290 460h10v10h-10zM280 470h10v10h-10zM450 470h10v10h-10zM460 470h10v10h-10zM290 480h10v10h-10zM320 480h10v10h-10zM480 480h10v10h-10zM70 490h10v10h-10zM120 490h10v10h-10zM470 490h10v10h-10z"/>
<path fill="#E401E7" d="M170 0h10v10h-10zM260 0h10v10h-10zM50 10h10v10h-10zM150 10h10v10h-10zM160 10h10v10h-10zM390 10h10v10h-10zM80 20h10v10h-10zM430 20h10v10h-10zM480 30h10v10h-10zM70 40h10v10h-10zM150 40h10v10h-10zM360 40h10v10h-10zM30 50h10v10h-10zM150 50h10v10h-10zM80 60h10v10h-10zM10 70h10v10h-10zM80 70h10v10h-10zM200 70h10v10h-10zM220 80h10v10h-10zM290 80h10v10h-10zM300 80h10v10h-10zM110 90h10v10h-10zM200 90h10v10h-10zM360 90h10v10h-10zM370 90h10v10h-10zM440 90h10v10h-10zM450 90h10v10h-10zM150 100h10v10h-10zM160 100h10v10h-10zM200 100h10v10h-10zM230 100h10v10h-10zM390 100h10v10h-10zM450 110h10v10h-10zM70 120h10v10h-10zM160 120h10v10h-10zM360 130h10v10h-10zM370 130h10v10h-10zM420 130h10v10h-10zM30 140h10v10h-10zM410 140h10v10h-10zM160 150h10v10h-10zM40 160h10v10h-10zM380 160h10v10h-10zM300 170h10v10h-10zM420 170h10v10h-10zM50 180h10v10h-10zM270 180h10v10h-10zM370 180h10v10h-10zM430 180h10v10h-10zM470 180h10v10h-10zM0 190h10v10h-10zM90 190h10v10h-10zM360 190h10v10h-10zM30 200h10v10h-10zM210 200h10v10h-10zM270 200h10v10h-10zM160 210h10v10h-10zM290 210h10v10h-10zM360 210h10v10h-10zM110 220h10v10h-10zM260 220h10v10h-10zM70 230h10v10h-10zM440 230h10v10h-10zM40 240h10v10h-10zM280 240h10v10h-10zM310 240h10v10h-10zM370 240h10v10h-10zM380 240h10v10h-10zM440 240h10v10h-10zM460 240h10v10h-10zM160 250h10v10h-10zM190 250h10v10h-10zM290 250h10v10h-10zM310 250h10v10h-10zM400 250h10v10h-10zM230 260h10v10h-10zM410 260h10v10h-10zM0 270h10v10h-10zM70 270h10v10h-10zM130 270h10v10h-10zM310 270h10v10h-10zM400 270h10v10h-10zM430 270h10v10h-10zM240 280h10v10h-10zM260 280h10v10h-10zM280 280h10v10h-10zM460 280h10v10h-10zM130 290h10v10h-10zM140 290h10v10h-10zM470 290h10v10h-10zM80 300h10v10h-10zM440 310h10v10h-10zM130 320h10v10h-10zM370 320h10v10h-10zM280 330h10v10h-10zM480 330h10v10h-10zM160 340h10v10h-10zM210 340h10v10h-10zM240 340h10v10h-10zM430 340h10v10h-10zM450 340h10v10h-10zM320 350h10v10h-10zM60 360h10v10h-10zM100 360h10v10h-10zM260 370h10v10h-10zM80 380h10v10h-10zM150 380h10v10h-10zM240 380h10v10h-10zM10 390h10v10h-10zM170 390h10v10h-10zM270 390h10v10h-10zM380 390h10v10h-10zM90 400h10v10h-10zM310 400h10v10h-10zM420 400h10v10h-10zM280 410h10v10h-10zM420 410h10v10h-10zM470 420h10v10h-10zM20 430h10v10h-10zM120 430h10v10h-10zM290 440h10v10h-10zM300 440h10v10h-10zM310 440h10v10h-10zM330 440h10v10h-10zM150 450h10v10h-10zM260 450h10v10h-10zM350 450h10v10h-10zM470 450h10v10h-10zM120 460h10v10h-10zM280 460h10v10h-10zM300 460h10v10h-10zM330 460h10v10h-10zM370 460h10v10h-10zM430 460h10v10h-10zM470 460h10v10h-10zM70 470h10v10h-10zM40 480h10v10h-10zM340 480h10v10h-10zM20 490h10v10h-10z"/>
<path fill="#D506AD" d="M250 0h10v10h-10zM370 0h10v10h-10zM310 10h10v10h-10zM400 10h10v10h-10zM20 20h10v10h-10zM470 20h10v10h-10zM380 30h10v10h-10zM120 40h10v10h-10zM180 40h10v10h-10zM350 40h10v10h-10zM490 40h10v10h-10zM410 50h10v10h-10zM450 50h10v10h-10zM60 60h10v10h-10zM200 60h10v10h-10zM30 70h10v10h-10zM360 70h10v10h-10zM370 70h10v10h-10zM210 80h10v10h-10zM240 80h10v10h-10zM460 80h10v10h-10zM480 80h10v10h-10zM210 90h10v10h-10zM260 90h10v10h-10zM410 90h10v10h-10zM330 100h10v10h-10zM80 110h10v10h-10zM140 110h10v10h-10zM260 110h10v10h-10zM280 120h10v10h-10zM130 130h10v10h-10zM250 130h10v10h-10zM240 140h10v10h-10zM420 140h10v10h-10zM460 140h10v10h-10zM150 150h10v10h-10zM210 160h10v10h-10zM230 160h10v10h-10zM310 160h10v10h-10zM400 160h10v10h-10zM430 160h10v10h-10zM50 170h10v10h-10zM60 170h10v10h-10zM380 170h10v10h-10zM20 180h10v10h-10zM300 180h10v10h-10zM180 190h10v10h-10zM300 190h10v10h-10zM170 200h10v10h-10zM430 200h10v10h-10zM40 210h10v10h-10zM90 210h10v10h-10zM140 210h10v10h-10zM210 210h10v10h-10zM250 210h10v10h-10zM270 210h10v10h-10zM410 210h10v10h-10zM450 210h10v10h-10zM160 220h10v10h-10zM280 220h10v10h-10zM290 220h10v10h-10zM210 230h10v10h-10zM240 230h10v10h-10zM340 230h10v10h-10zM420 230h10v10h-10zM50 240h10v10h-10zM100 240h10v10h-10zM140 240h10v10h-10zM160 240h10v10h-10zM220 240h10v10h-10zM0 250h10v10h-10zM20 250h10v10h-10zM70 250h10v10h-10zM280 250h10v10h-10zM360 250h10v10h-10zM480 250h10v10h-10zM70 260h10v10h-10zM240 260h10v10h-10zM340 260h10v10h-10zM470 260h10v10h-10zM90 270h10v10h-10zM230 270h10v10h-10zM360 270h10v10h-10zM480 270h10v10h-10zM30 280h10v10h-10zM250 280h10v10h-10zM50 290h10v10h-10zM60 290h10v10h-10zM70 290h10v10h-10zM300 290h10v10h-10zM450 290h10v10h-10zM70 300h10v10h-10zM170 300h10v10h-10zM20 310h10v10h-10zM320 310h10v10h-10zM380 310h10v10h-10zM400 310h10v10h-10zM110 320h10v10h-10zM280 320h10v10h-10zM130 330h10v10h-10zM390 330h10v10h-10zM390 340h10v10h-10zM400 340h10v10h-10zM460 350h10v10h-10zM270 360h10v10h-10zM350 360h10v10h-10zM430 360h10v10h-10zM450 360h10v10h-10zM110 370h10v10h-10zM120 370h10v10h-10zM130 370h10v10h-10zM270 370h10v10h-10zM410 370h10v10h-10zM470 370h10v10h-10zM490 370h10v10h-10zM450 380h10v10h-10zM100 390h10v10h-10zM220 390h10v10h-10zM240 390h10v10h-10zM340 390h10v10h-10zM440 400h10v10h-10zM490 400h10v10h-10zM10 410h10v10h-10zM190 410h10v10h-10zM150 420h10v10h-10zM280 420h10v10h-10zM350 420h10v10h-10zM440 420h10v10h-10zM460 420h10v10h-10zM30 430h10v10h-10zM70 430h10v10h-10zM240 430h10v10h-10zM290 430h10v10h-10zM370 430h10v10h-10zM380 430h10v10h-10zM410 430h10v10h-10zM250 440h10v10h-10zM50 450h10v10h-10zM200 450h10v10h-10zM290 450h10v10h-10zM340 450h10v10h-10zM30 460h10v10h-10zM170 460h10v10h-10zM310 460h10v10h-10zM30 470h10v10h-10zM90 470h10v10h-10zM120 470h10v10h-10zM180 470h10v10h-10zM330 470h10v10h-10zM470 470h10v10h-10zM70 480h10v10h-10zM90 480h10v10h-10zM140 480h10v10h-10zM370 480h10v10h-10zM210 490h10v10h-10zM260 490h10v10h-10z"/>
<path fill="#CD0778" d="M110 0h10v10h-10zM120 0h10v10h-10zM330 0h10v10h-10zM380 0h10v10h-10zM470 0h10v10h-10zM240 10h10v10h-10zM420 10h10v10h-10zM110 20h10v10h-10zM170 20h10v10h-10zM310 20h10v10h-10zM360 20h10v10h-10zM410 20h10v10h-10zM110 30h10v10h-10zM190 30h10v10h-10zM300 30h10v10h-10zM110 40h10v10h-10zM10 50h10v10h-10zM80 50h10v10h-10zM370 50h10v10h-10zM0 60h10v10h-10zM340 70h10v10h-10zM380 70h10v10h-10zM400 70h10v10h-10zM10 80h10v10h-10zM330 80h10v10h-10zM280 100h10v10h-10zM360 100h10v10h-10zM200 110h10v10h-10zM320 110h10v10h-10zM380 110h10v10h-10zM330 130h10v10h-10zM490 140h10v10h-10zM10 150h10v10h-10zM20 150h10v10h-10zM330 160h10v10h-10zM340 160h10v10h-10zM360 160h10v10h-10zM170 170h10v10h-10zM410 170h10v10h-10zM450 170h10v10h-10zM0 180h10v10h-10zM40 180h10v10h-10zM190 190h10v10h-10zM470 190h10v10h-10zM490 190h10v10h-10zM80 200h10v10h-10zM410 200h10v10h-10zM110 210h10v10h-10zM20 220h10v10h-10zM350 220h10v10h-10zM370 220h10v10h-10zM410 220h10v10h-10zM380 260h10v10h-10zM380 270h10v10h-10zM0 280h10v10h-10zM420 280h10v10h-10zM110 290h10v10h-10zM60 300h10v10h-10zM130 300h10v10h-10zM260 300h10v10h-10zM120 310h10v10h-10zM220 310h10v10h-10zM120 320h10v10h-10zM170 320h10v10h-10zM320 320h10v10h-10zM350 320h10v10h-10zM400 320h10v10h-10zM110 330h10v10h-10zM350 330h10v10h-10zM340 340h10v10h-10zM490 340h10v10h-10zM400 350h10v10h-10zM170 360h10v10h-10zM160 370h10v10h-10zM290 370h10v10h-10zM300 370h10v10h-10zM330 370h10v10h-10zM420 370h10v10h-10zM460 380h10v10h-10zM30 390h10v10h-10zM180 390h10v10h-10zM150 400h10v10h-10zM170 400h10v10h-10zM470 400h10v10h-10zM0 410h10v10h-10zM150 430h10v10h-10zM160 430h10v10h-10zM220 430h10v10h-10zM460 430h10v10h-10zM140 440h10v10h-10zM360 440h10v10h-10zM490 450h10v10h-10zM220 470h10v10h-10zM0 480h10v10h-10zM420 480h10v10h-10zM200 490h10v10h-10zM250 490h10v10h-10zM480 490h10v10h-10z"/>
<path fill="#B50142" d="M10 0h10v10h-10zM360 0h10v10h-10zM410 0h10v10h-10zM70 10h10v10h-10zM90 10h10v10h-10zM410 10h10v10h-10zM480 10h10v10h-10zM300 20h10v10h-10zM140 30h10v10h-10zM240 30h10v10h-10zM370 40h10v10h-10zM350 50h10v10h-10zM220 60h10v10h-10zM410 60h10v10h-10zM460 60h10v10h-10zM390 70h10v10h-10zM420 70h10v10h-10zM250 100h10v10h-10zM410 100h10v10h-10zM400 110h10v10h-10zM20 120h10v10h-10zM230 120h10v10h-10zM110 140h10v10h-10zM190 140h10v10h-10zM280 140h10v10h-10zM340 140h10v10h-10zM110 150h10v10h-10zM350 150h10v10h-10zM480 150h10v10h-10zM120 160h10v10h-10zM160 160h10v10h-10zM240 160h10v10h-10zM0 170h10v10h-10zM250 170h10v10h-10zM360 170h10v10h-10zM330 180h10v10h-10zM400 180h10v10h-10zM30 190h10v10h-10zM230 190h10v10h-10zM330 190h10v10h-10zM240 200h10v10h-10zM390 200h10v10h-10zM220 210h10v10h-10zM400 210h10v10h-10zM470 210h10v10h-10zM0 220h10v10h-10zM70 220h10v10h-10zM140 220h10v10h-10zM480 220h10v10h-10zM490 220h10v10h-10zM140 230h10v10h-10zM80 240h10v10h-10zM180 240h10v10h-10zM410 240h10v10h-10zM220 250h10v10h-10zM160 260h10v10h-10zM440 260h10v10h-10zM150 280h10v10h-10zM190 280h10v10h-10zM200 290h10v10h-10zM400 290h10v10h-10zM160 300h10v10h-10zM430 300h10v10h-10zM450 310h10v10h-10zM150 320h10v10h-10zM0 330h10v10h-10zM40 330h10v10h-10zM290 330h10v10h-10zM60 340h10v10h-10zM420 340h10v10h-10zM460 340h10v10h-10zM10 350h10v10h-10zM140 350h10v10h-10zM90 360h10v10h-10zM210 360h10v10h-10zM490 360h10v10h-10zM100 370h10v10h-10zM340 380h10v10h-10zM470 380h10v10h-10zM20 390h10v10h-10zM410 390h10v10h-10zM420 390h10v10h-10zM460 390h10v10h-10zM380 400h10v10h-10zM370 410h10v10h-10zM400 410h10v10h-10zM320 420h10v10h-10zM420 420h10v10h-10zM450 420h10v10h-10zM140 430h10v10h-10zM350 430h10v10h-10zM430 450h10v10h-10zM10 460h10v10h-10zM50 460h10v10h-10zM230 470h10v10h-10zM350 470h10v10h-10zM380 470h10v10h-10zM360 490h10v10h-10z"/>
<path fill="#A7000F" d="M130 0h10v10h-10zM30 10h10v10h-10zM180 10h10v10h-10zM330 10h10v10h-10zM360 10h10v10h-10zM130 20h10v10h-10zM400 20h10v10h-10zM0 30h10v10h-10zM20 30h10v10h-10zM170 30h10v10h-10zM280 30h10v10h-10zM290 30h10v10h-10zM20 40h10v10h-10zM50 40h10v10h-10zM290 40h10v10h-10zM310 40h10v10h-10zM430 40h10v10h-10zM300 50h10v10h-10zM330 50h10v10h-10zM390 50h10v10h-10zM230 60h10v10h-10zM290 60h10v10h-10zM70 70h10v10h-10zM130 80h10v10h-10zM340 80h10v10h-10zM430 80h10v10h-10zM400 90h10v10h-10zM480 90h10v10h-10zM220 100h10v10h-10zM290 100h10v10h-10zM20 110h10v10h-10zM90 110h10v10h-10zM480 110h10v10h-10zM0 120h10v10h-10zM100 120h10v10h-10zM240 120h10v10h-10zM30 130h10v10h-10zM60 140h10v10h-10zM170 140h10v10h-10zM220 140h10v10h-10zM220 150h10v10h-10zM380 150h10v10h-10zM50 160h10v10h-10zM70 160h10v10h-10zM150 160h10v10h-10zM180 160h10v10h-10zM190 160h10v10h-10zM180 170h10v10h-10zM130 180h10v10h-10zM70 200h10v10h-10zM420 200h10v10h-10zM150 210h10v10h-10zM190 210h10v10h-10zM230 210h10v10h-10zM360 220h10v10h-10zM390 220h10v10h-10zM260 230h10v10h-10zM320 230h10v10h-10zM430 230h10v10h-10zM60 240h10v10h-10zM340 240h10v10h-10zM490 240h10v10h-10zM10 250h10v10h-10zM10 270h10v10h-10zM150 270h10v10h-10zM450 270h10v10h-10zM110 280h10v10h-10zM320 290h10v10h-10zM410 290h10v10h-10zM0 300h10v10h-10zM90 300h10v10h-10zM110 300h10v10h-10zM200 300h10v10h-10zM490 300h10v10h-10zM160 310h10v10h-10zM410 310h10v10h-10zM490 310h10v10h-10zM0 320h10v10h-10zM270 330h10v10h-10zM290 340h10v10h-10zM300 340h10v10h-10zM330 340h10v10h-10zM410 340h10v10h-10zM0 350h10v10h-10zM20 370h10v10h-10zM180 370h10v10h-10zM200 370h10v10h-10zM390 370h10v10h-10zM0 380h10v10h-10zM160 380h10v10h-10zM480 380h10v10h-10zM50 400h10v10h-10zM120 400h10v10h-10zM210 400h10v10h-10zM220 400h10v10h-10zM320 400h10v10h-10zM370 400h10v10h-10zM230 410h10v10h-10zM300 410h10v10h-10zM350 410h10v10h-10zM90 420h10v10h-10zM100 420h10v10h-10zM370 420h10v10h-10zM10 430h10v10h-10zM130 430h10v10h-10zM170 430h10v10h-10zM470 430h10v10h-10zM70 440h10v10h-10zM180 440h10v10h-10zM170 450h10v10h-10zM190 450h10v10h-10zM410 450h10v10h-10zM90 460h10v10h-10zM130 460h10v10h-10zM270 460h10v10h-10zM170 470h10v10h-10zM200 470h10v10h-10zM180 480h10v10h-10zM280 480h10v10h-10zM400 480h10v10h-10zM100 490h10v10h-10zM150 490h10v10h-10zM220 490h10v10h-10z"/>
<path fill="#891901" d="M90 0h10v10h-10zM280 0h10v10h-10zM290 0h10v10h-10zM170 10h10v10h-10zM430 10h10v10h-10zM30 20h10v10h-10zM70 20h10v10h-10zM150 20h10v10h-10zM340 20h10v10h-10zM390 20h10v10h-10zM200 30h10v10h-10zM470 30h10v10h-10zM100 40h10v10h-10zM170 40h10v10h-10zM190 40h10v10h-10zM230 40h10v10h-10zM420 40h10v10h-10zM440 40h10v10h-10zM480 40h10v10h-10zM110 50h10v10h-10zM400 60h10v10h-10zM420 60h10v10h-10zM490 60h10v10h-10zM110 70h10v10h-10zM120 70h10v10h-10zM160 70h10v10h-10zM290 70h10v10h-10zM430 70h10v10h-10zM440 70h10v10h-10zM450 70h10v10h-10zM470 70h10v10h-10zM10 90h10v10h-10zM30 90h10v10h-10zM90 90h10v10h-10zM290 90h10v10h-10zM310 90h10v10h-10zM320 90h10v10h-10zM380 90h10v10h-10zM110 100h10v10h-10zM380 100h10v10h-10zM440 100h10v10h-10zM450 100h10v10h-10zM330 110h10v10h-10zM170 120h10v10h-10zM210 120h10v10h-10zM260 120h10v10h-10zM330 120h10v10h-10zM390 120h10v10h-10zM0 130h10v10h-10zM240 130h10v10h-10zM120 140h10v10h-10zM160 140h10v10h-10zM250 140h10v10h-10zM380 140h10v10h-10zM170 150h10v10h-10zM200 150h10v10h-10zM240 150h10v10h-10zM260 150h10v10h-10zM290 150h10v10h-10zM300 150h10v10h-10zM440 150h10v10h-10zM80 160h10v10h-10zM110 160h10v10h-10zM250 160h10v10h-10zM80 170h10v10h-10zM400 170h10v10h-10zM60 180h10v10h-10zM170 180h10v10h-10zM260 180h10v10h-10zM10 190h10v10h-10zM60 190h10v10h-10zM120 190h10v10h-10zM130 190h10v10h-10zM150 190h10v10h-10zM250 190h10v10h-10zM310 190h10v10h-10zM320 190h10v10h-10zM370 190h10v10h-10zM400 190h10v10h-10zM130 200h10v10h-10zM190 200h10v10h-10zM320 200h10v10h-10zM60 220h10v10h-10zM150 220h10v10h-10zM240 220h10v10h-10zM250 220h10v10h-10zM450 220h10v10h-10zM460 220h10v10h-10zM470 220h10v10h-10zM90 230h10v10h-10zM420 240h10v10h-10zM420 250h10v10h-10zM450 250h10v10h-10zM50 260h10v10h-10zM90 260h10v10h-10zM180 260h10v10h-10zM310 260h10v10h-10zM350 260h10v10h-10zM420 260h10v10h-10zM460 260h10v10h-10zM20 270h10v10h-10zM170 270h10v10h-10zM190 270h10v10h-10zM210 270h10v10h-10zM290 270h10v10h-10zM300 270h10v10h-10zM50 280h10v10h-10zM90 280h10v10h-10zM170 280h10v10h-10zM290 280h10v10h-10zM390 290h10v10h-10zM430 290h10v10h-10zM190 300h10v10h-10zM390 300h10v10h-10zM0 310h10v10h-10zM200 310h10v10h-10zM270 310h10v10h-10zM290 310h10v10h-10zM430 310h10v10h-10zM300 320h10v10h-10zM390 320h10v10h-10zM420 320h10v10h-10zM450 320h10v10h-10zM10 330h10v10h-10zM200 330h10v10h-10zM0 340h10v10h-10zM10 340h10v10h-10zM20 340h10v10h-10zM100 340h10v10h-10zM150 340h10v10h-10zM280 340h10v10h-10zM350 340h10v10h-10zM360 340h10v10h-10zM200 350h10v10h-10zM300 350h10v10h-10zM430 350h10v10h-10zM440 350h10v10h-10zM10 360h10v10h-10zM290 360h10v10h-10zM310 360h10v10h-10zM340 360h10v10h-10zM460 360h10v10h-10zM40 370h10v10h-10zM50 370h10v10h-10zM350 370h10v10h-10zM400 370h10v10h-10zM440 370h10v10h-10zM50 380h10v10h-10zM210 380h10v10h-10zM120 390h10v10h-10zM210 390h10v10h-10zM260 390h10v10h-10zM330 390h10v10h-10zM390 390h10v10h-10zM480 390h10v10h-10zM140 400h10v10h-10zM270 400h10v10h-10zM300 400h10v10h-10zM200 410h10v10h-10zM260 410h10v10h-10zM320 410h10v10h-10zM330 410h10v10h-10zM430 410h10v10h-10zM40 420h10v10h-10zM180 420h10v10h-10zM300 430h10v10h-10zM450 430h10v10h-10zM80 440h10v10h-10zM340 440h10v10h-10zM430 440h10v10h-10zM100 450h10v10h-10zM300 450h10v10h-10zM390 450h10v10h-10zM420 450h10v10h-10zM480 450h10v10h-10zM40 460h10v10h-10zM340 460h10v10h-10zM20 470h10v10h-10zM190 470h10v10h-10zM240 470h10v10h-10zM260 470h10v10h-10zM290 470h10v10h-10zM20 480h10v10h-10zM30 480h10v10h-10zM150 480h10v10h-10zM430 480h10v10h-10zM440 480h10v10h-10zM50 490h10v10h-10zM80 490h10v10h-10zM90 490h10v10h-10zM330 490h10v10h-10zM370 490h10v10h-10zM420 490h10v10h-10z"/>
<path fill="#743703" d="M0 0h10v10h-10zM60 0h10v10h-10zM150 0h10v10h-10zM210 0h10v10h-10zM300 0h10v10h-10zM390 0h10v10h-10zM480 0h10v10h-10zM20 10h10v10h-10zM190 10h10v10h-10zM230 10h10v10h-10zM440 10h10v10h-10zM450 10h10v10h-10zM140 20h10v10h-10zM490 20h10v10h-10zM70 30h10v10h-10zM310 30h10v10h-10zM320 30h10v10h-10zM420 30h10v10h-10zM60 40h10v10h-10zM260 40h10v10h-10zM450 40h10v10h-10zM20 50h10v10h-10zM60 50h10v10h-10zM140 50h10v10h-10zM190 50h10v10h-10zM270 50h10v10h-10zM480 50h10v10h-10zM190 60h10v10h-10zM320 60h10v10h-10zM230 70h10v10h-10zM350 70h10v10h-10zM410 70h10v10h-10zM120 80h10v10h-10zM190 80h10v10h-10zM380 80h10v10h-10zM190 90h10v10h-10zM220 90h10v10h-10zM0 100h10v10h-10zM140 100h10v10h-10zM180 100h10v10h-10zM240 100h10v10h-10zM460 100h10v10h-10zM10 110h10v10h-10zM150 110h10v10h-10zM130 120h10v10h-10zM250 120h10v10h-10zM410 120h10v10h-10zM440 120h10v10h-10zM160 130h10v10h-10zM190 130h10v10h-10zM280 130h10v10h-10zM350 130h10v10h-10zM150 140h10v10h-10zM210 140h10v10h-10zM230 140h10v10h-10zM470 140h10v10h-10zM0 150h10v10h-10zM80 150h10v10h-10zM90 150h10v10h-10zM450 150h10v10h-10zM230 170h10v10h-10zM240 170h10v10h-10zM280 170h10v10h-10zM310 170h10v10h-10zM330 170h10v10h-10zM460 170h10v10h-10zM480 170h10v10h-10zM80 180h10v10h-10zM100 180h10v10h-10zM320 180h10v10h-10zM180 200h10v10h-10zM200 200h10v10h-10zM330 200h10v10h-10zM370 200h10v10h-10zM460 200h10v10h-10zM20 210h10v10h-10zM130 210h10v10h-10zM200 210h10v10h-10zM370 210h10v10h-10zM440 210h10v10h-10zM200 220h10v10h-10zM340 220h10v10h-10zM380 220h10v10h-10zM190 230h10v10h-10zM350 230h10v10h-10zM120 240h10v10h-10zM150 240h10v10h-10zM250 240h10v10h-10zM320 240h10v10h-10zM350 240h10v10h-10zM360 240h10v10h-10zM80 250h10v10h-10zM320 250h10v10h-10zM370 250h10v10h-10zM430 250h10v10h-10zM60 260h10v10h-10zM430 260h10v10h-10zM60 270h10v10h-10zM140 270h10v10h-10zM270 270h10v10h-10zM70 280h10v10h-10zM130 280h10v10h-10zM300 280h10v10h-10zM410 280h10v10h-10zM470 280h10v10h-10zM0 290h10v10h-10zM10 290h10v10h-10zM120 290h10v10h-10zM160 290h10v10h-10zM240 290h10v10h-10zM350 290h10v10h-10zM440 290h10v10h-10zM460 290h10v10h-10zM100 300h10v10h-10zM240 300h10v10h-10zM250 300h10v10h-10zM280 300h10v10h-10zM310 300h10v10h-10zM450 300h10v10h-10zM40 310h10v10h-10zM40 320h10v10h-10zM140 320h10v10h-10zM430 320h10v10h-10zM470 320h10v10h-10zM490 320h10v10h-10zM130 340h10v10h-10zM230 340h10v10h-10zM170 350h10v10h-10zM230 350h10v10h-10zM270 350h10v10h-10zM350 350h10v10h-10zM370 350h10v10h-10zM50 360h10v10h-10zM80 360h10v10h-10zM140 360h10v10h-10zM360 360h10v10h-10zM70 370h10v10h-10zM170 370h10v10h-10zM220 370h10v10h-10zM230 370h10v10h-10zM220 380h10v10h-10zM330 380h10v10h-10zM490 390h10v10h-10zM60 400h10v10h-10zM130 400h10v10h-10zM290 400h10v10h-10zM350 400h10v10h-10zM90 410h10v10h-10zM150 410h10v10h-10zM390 410h10v10h-10zM190 420h10v10h-10zM360 420h10v10h-10zM60 430h10v10h-10zM80 430h10v10h-10zM180 430h10v10h-10zM270 430h10v10h-10zM440 430h10v10h-10zM10 440h10v10h-10zM200 440h10v10h-10zM210 440h10v10h-10zM240 440h10v10h-10zM10 450h10v10h-10zM60 450h10v10h-10zM120 450h10v10h-10zM130 450h10v10h-10zM70 460h10v10h-10zM410 460h10v10h-10zM450 460h10v10h-10zM490 460h10v10h-10zM50 470h10v10h-10zM340 470h10v10h-10zM400 470h10v10h-10zM80 480h10v10h-10zM190 480h10v10h-10zM250 480h10v10h-10zM270 480h10v10h-10zM190 490h10v10h-10zM290 490h10v10h-10zM400 490h10v10h-10z"/>
<path fill="#673F03" d="M90 50h10v10h-10zM150 60h10v10h-10zM0 90h10v10h-10zM100 90h10v10h-10zM170 90h10v10h-10zM490 160h10v10h-10zM100 170h10v10h-10z"/>
<path d="M0 0H500M0 0V500M0 10H500M10 0V500M0 20H500M20 0V500M0 30H500M30 0V500M0 40H500M40 0V500M0 50H500M50 0V500M0 60H500M60 0V500M0 70H500M70 0V500M0 80H500M80 0V500M0 90H500M90 0V500M0 100H500M100 0V500M0 110H500M110 0V500M0 120H500M120 0V500M0 130H500M130 0V500M0 140H500M140 0V500M0 150H500M150 0V500M0 160H500M160 0V500M0 170H500M170 0V500M0 180H500M180 0V500M0 190H500M190 0V500M0 200H500M200 0V500M0 210H500M210 0V500M0 220H500M220 0V500M0 230H500M230 0V500M0 240H500M240 0V500M0 250H500M250 0V500M0 260H500M260 0V500M0 270H500M270 0V500M0 280H500M280 0V500M0 290H500M290 0V500M0 300H500M300 0V500M0 310H500M310 0V500M0 320H500M320 0V500M0 330H500M330 0V500M0 340H500M340 0V500M0 350H500M350 0V500M0 360H500M360 0V500M0 370H500M370 0V500M0 380H500M380 0V500M0 390H500M390 0V500M0 400H500M400 0V500M0 410H500M410 0V500M0 420H500M420 0V500M0 430H500M430 0V500M0 440H500M440 0V500M0 450H500M450 0V500M0 460H500M460 0V500M0 470H500M470 0V500M0 480H500M480 0V500M0 490H500M490 0V500M0 500H500M500 0V500" stroke="#000" stroke-width="1.35" fill="none"/>
<path d="M5 5h0M15 5h0M25 5h0M35 5h0M45 5h0M55 5h0M65 5h0M75 5h0M85 5h0M95 5h0M105 5h0M115 5h0M125 5h0M135 5h0M145 5h0M155 5h0M165 5h0M175 5h0M185 5h0M195 5h0M205 5h0M215 5h0M225 5h0M235 5h0M245 5h0M255 5h0M265 5h0M275 5h0M285 5h0M295 5h0M305 5h0M315 5h0M325 5h0M335 5h0M345 5h0M355 5h0M365 5h0M375 5h0M385 5h0M395 5h0M405 5h0M415 5h0M425 5h0M435 5h0M445 5h0M455 5h0M465 5h0M475 5h0M485 5h0M495 5h0M5 15h0M15 15h0M25 15h0M35 15h0M45 15h0M55 15h0M65 15h0M75 15h0M85 15h0M95 15h0M105 15h0M115 15h0M125 15h0M135 15h0M145 15h0M155 15h0M165 15h0M175 15h0M185 15h0M195 15h0M205 15h0M215 15h0M225 15h0M235 15h0M245 15h0M255 15h0M265 15h0M275 15h0M285 15h0M295 15h0M305 15h0M315 15h0M325 15h0M335 15h0M345 15h0M355 15h0M365 15h0M375 15h0M385 15h0M395 15h0M405 15h0M415 15h0M425 15h0M435 15h0M445 15h0M455 15h0M465 15h0M475 15h0M485 15h0M495 15h0M5 25h0M15 25h0M25 25h0M35 25h0M45 25h0M55 25h0M65 25h0M75 25h0M85 25h0M95 25h0M105 25h0M115 25h0M125 25h0M135 25h0M145 25h0M155 25h0M165 25h0M175 25h0M185 25h0M195 25h0M205 25h0M215 25h0M225 25h0M235 25h0M245 25h0M255 25h0M265 25h0M275 25h0M285 25h0M295 25h0M305 25h0M315 25h0M325 25h0M335 25h0M345 25h0M355 25h0M365 25h0M375 25h0M385 25h0M395 25h0M405 25h0M415 25h0M425 25h0M435 25h0M445 25h0M455 25h0M465 25h0M475 25h0M485 25h0M495 25h0M5 35h0M15 35h0M25 35h0M35 35h0M45 35h0M55 35h0M65 35h0M75 35h0M85 35h0M95 35h0M105 35h0M115 35h0M125 35h0M135 35h0M145 35h0M155 35h0M165 35h0M175 35h0M185 35h0M195 35h0M205 35h0M215 35h0M225 35h0M235 35h0M245 35h0M255 35h0M265 35h0M275 35h0M285 35h0M295 35h0M305 35h0M315 35h0M325 35h0M335 35h0M345 35h0M355 35h0M365 35h0M375 35h0M385 35h0M395 35h0M405 35h0M415 35h0M425 35h0M435 35h0M445 35h0M455 35h0M465 35h0M475 35h0M485 35h0M495 35h0M5 45h0M15 45h0M25 45h0M35 45h0M45 45h0M55 45h0M65 45h0M75 45h0M85 45h0M95 45h0M105 45h0M115 45h0M125 45h0M135 45h0M145 45h0M155 45h0M165 45h0M175 45h0M185 45h0M195 45h0M205 45h0M215 45h0M225 45h0M235 45h0M245 45h0M255 45h0M265 45h0M275 45h0M285 45h0M295 45h0M305 45h0M315 45h0M325 45h0M335 45h0M345 45h0M355 45h0M365 45h0M375 45h0M385 45h0M395 45h0M405 45h0M415 45h0M425 45h0M435 45h0M445 45h0M455 45h0M465 45h0M475 45h0M485 45h0M495 45h0M5 55h0M15 55h0M25 55h0M35 55h0M45 55h0M55 55h0M65 55h0M75 55h0M85 55h0M95 55h0M105 55h0M115 55h0M125 55h0M135 55h0M145 55h0M155 55h0M165 55h0M175 55h0M185 55h0M195 55h0M205 55h0M215 55h0M225 55h0M235 55h0M245 55h0M255 55h0M265 55h0M275 55h0M285 55h0M295 55h0M305 55h0M315 55h0M325 55h0M335 55h0M345 55h0M355 55h0M365 55h0M375 55h0M385 55h0M395 55h0M405 55h0M415 55h0M425 55h0M435 55h0M445 55h0M455 55h0M465 55h0M475 55h0M485 55h0M495 55h0M5 65h0M15 65h0M25 65h0M35 65h0M45 65h0M55 65h0M65 65h0M75 65h0M85 65h0M95 65h0M105 65h0M115 65h0M125 65h0M135 65h0M145 65h0M155 65h0M165 65h0M175 65h0M185 65h0M195 65h0M205 65h0M215 65h0M225 65h0M235 65h0M245 65h0M255 65h0M265 65h0M275 65h0M285 65h0M295 65h0M305 65h0M315 65h0M325 65h0M335 65h0M345 65h0M355 65h0M365 65h0M375 65h0M385 65h0M395 65h0M405 65h0M415 65h0M425 65h0M435 65h0M445 65h0M455 65h0M465 65h0M475 65h0M485 65h0M495 65h0M5 75h0M15 75h0M25 75h0M35 75h0M45 75h0M55 75h0M65 75h0M75 75h0M85 75h0M95 75h0M105 75h0M115 75h0M125 75h0M135 75h0M145 75h0M155 75h0M165 75h0M175 75h0M185 75h0M195 75h0M205 75h0M215 75h0M225 75h0M235 75h0M245 75h0M255 75h0M265 75h0M275 75h0M285 75h0M295 75h0M305 75h0M315 75h0M325 75h0M335 75h0M345 75h0M355 75h0M365 75h0M375 75h0M385 75h0M395 75h0M405 75h0M415 75h0M425 75h0M435 75h0M445 75h0M455 75h0M465 75h0M475 75h0M485 75h0M495 75h0M5 85h0M15 85h0M25 85h0M35 85h0M45 85h0M55 85h0M65 85h0M75 85h0M85 85h0M95 85h0M105 85h0M115 85h0M125 85h0M135 85h0M145 85h0M155 85h0M165 85h0M175 85h0M185 85h0M195 85h0M205 85h0M215 85h0M225 85h0M235 85h0M245 85h0M255 85h0M265 85h0M275 85h0M285 85h0M295 85h0M305 85h0M315 85h0M325 85h0M335 85h0M345 85h0M355 85h0M365 85h0M375 85h0M385 85h0M395 85h0M405 85h0M415 85h0M425 85h0M435 85h0M445 85h0M455 85h0M465 85h0M475 85h0M485 85h0M495 85h0M5 95h0M15 95h0M25 95h0M35 95h0M45 95h0M55 95h0M65 95h0M75 95h0M85 95h0M95 95h0M105 95h0M115 95h0M125 95h0M135 95h0M145 95h0M155 95h0M165 95h0M175 95h0M185 95h0M195 95h0M205 95h0M215 95h0M225 95h0M235 95h0M245 95h0M255 95h0M265 95h0M275 95h0M285 95h0M295 95h0M305 95h0M315 95h0M325 95h0M335 95h0M345 95h0M355 95h0M365 95h0M375 95h0M385 95h0M395 95h0M405 95h0M415 95h0M425 95h0M435 95h0M445 95h0M455 95h0M465 95h0M475 95h0M485 95h0M495 95h0M5 105h0M15 105h0M25 105h0M35 105h0M45 105h0M55 105h0M65 105h0M75 105h0M85 105h0M95 105h0M105 105h0M115 105h0M125 105h0M135 105h0M145 105h0M155 105h0M165 105h0M175 105h0M185 105h0M195 105h0M205 105h0M215 105h0M225 105h0M235 105h0M245 105h0M255 105h0M265 105h0M275 105h0M285 105h0M295 105h0M305 105h0M315 105h0M325 105h0M335 105h0M345 105h0M355 105h0M365 105h0M375 105h0M385 105h0M395 105h0M405 105h0M415 105h0M425 105h0M435 105h0M445 105h0M455 105h0M465 105h0M475 105h0M485 105h0M495 105h0M5 115h0M15 115h0M25 115h0M35 115h0M45 115h0M55 115h0M65 115h0M75 115h0M85 115h0M95 115h0M105 115h0M115 115h0M125 115h0M135 115h0M145 115h0M155 115h0M165 115h0M175 115h0M185 115h0M195 115h0M205 115h0M215 115h0M225 115h0M235 115h0M245 115h0M255 115h0M265 115h0M275 115h0M285 115h0M295 115h0M305 115h0M315 115h0M325 115h0M335 115h0M345 115h0M355 115h0M365 115h0M375 115h0M385 115h0M395 115h0M405 115h0M415 115h0M425 115h0M435 115h0M445 115h0M455 115h0M465 115h0M475 115h0M485 115h0M495 115h0M5 125h0M15 125h0M25 125h0M35 125h0M45 125h0M55 125h0M65 125h0M75 125h0M85 125h0M95 125h0M105 125h0M115 125h0M125 125h0M135 125h0M145 125h0M155 125h0M165 125h0M175 125h0M185 125h0M195 125h0M205 125h0M215 125h0M225 125h0M235 125h0M245 125h0M255 125h0M265 125h0M275 125h0M285 125h0M295 125h0M305 125h0M315 125h0M325 125h0M335 125h0M345 125h0M355 125h0M365 125h0M375 125h0M385 125h0M395 125h0M405 125h0M415 125h0M425 125h0M435 125h0M445 125h0M455 125h0M465 125h0M475 125h0M485 125h0M495 125h0M5 135h0M15 135h0M25 135h0M35 135h0M45 135h0M55 135h0M65 135h0M75 135h0M85 135h0M95 135h0M105 135h0M115 135h0M125 135h0M135 135h0M145 135h0M155 135h0M165 135h0M175 135h0M185 135h0M195 135h0M205 135h0M215 135h0M225 135h0M235 135h0M245 135h0M255 135h0M265 135h0M275 135h0M285 135h0M295 135h0M305 135h0M315 135h0M325 135h0M335 135h0M345 135h0M355 135h0M365 135h0M375 135h0M385 135h0M395 135h0M405 135h0M415 135h0M425 135h0M435 135h0M445 135h0M455 135h0M465 135h0M475 135h0M485 135h0M495 135h0M5 145h0M15 145h0M25 145h0M35 145h0M45 145h0M55 145h0M65 145h0M75 145h0M85 145h0M95 145h0M105 145h0M115 145h0M125 145h0M135 145h0M145 145h0M155 145h0M165 145h0M175 145h0M185 145h0M195 145h0M205 145h0M215 145h0M225 145h0M235 145h0M245 145h0M255 145h0M265 145h0M275 145h0M285 145h0M295 145h0M305 145h0M315 145h0M325 145h0M335 145h0M345 145h0M355 145h0M365 145h0M375 145h0M385 145h0M395 145h0M405 145h0M415 145h0M425 145h0M435 145h0M445 145h0M455 145h0M465 145h0M475 145h0M485 145h0M495 145h0M5 155h0M15 155h0M25 155h0M35 155h0M45 155h0M55 155h0M65 155h0M75 155h0M85 155h0M95 155h0M105 155h0M115 155h0M125 155h0M135 155h0M145 155h0M155 155h0M165 155h0M175 155h0M185 155h0M195 155h0M205 155h0M215 155h0M225 155h0M235 155h0M245 155h0M255 155h0M265 155h0M275 155h0M285 155h0M295 155h0M305 155h0M315 155h0M325 155h0M335 155h0M345 155h0M355 155h0M365 155h0M375 155h0M385 155h0M395 155h0M405 155h0M415 155h0M425 155h0M435 155h0M445 155h0M455 155h0M465 155h0M475 155h0M485 155h0M495 155h0M5 165h0M15 165h0M25 165h0M35 165h0M45 165h0M55 165h0M65 165h0M75 165h0M85 165h0M95 165h0M105 165h0M115 165h0M125 165h0M135 165h0M145 165h0M155 165h0M165 165h0M175 165h0M185 165h0M195 165h0M205 165h0M215 165h0M225 165h0M235 165h0M245 165h0M255 165h0M265 165h0M275 165h0M285 165h0M295 165h0M305 165h0M315 165h0M325 165h0M335 165h0M345 165h0M355 165h0M365 165h0M375 165h0M385 165h0M395 165h0M405 165h0M415 165h0M425 165h0M435 165h0M445 165h0M455 165h0M465 165h0M475 165h0M485 165h0M495 165h0M5 175h0M15 175h0M25 175h0M35 175h0M45 175h0M55 175h0M65 175h0M75 175h0M85 175h0M95 175h0M105 175h0M115 175h0M125 175h0M135 175h0M145 175h0M155 175h0M165 175h0M175 175h0M185 175h0M195 175h0M205 175h0M215 175h0M225 175h0M235 175h0M245 175h0M255 175h0M265 175h0M275 175h0M285 175h0M295 175h0M305 175h0M315 175h0M325 175h0M335 175h0M345 175h0M355 175h0M365 175h0M375 175h0M385 175h0M395 175h0M405 175h0M415 175h0M425 175h0M435 175h0M445 175h0M455 175h0M465 175h0M475 175h0M485 175h0M495 175h0M5 185h0M15 185h0M25 185h0M35 185h0M45 185h0M55 185h0M65 185h0M75 185h0M85 185h0M95 185h0M105 185h0M115 185h0M125 185h0M135 185h0M145 185h0M155 185h0M165 185h0M175 185h0M185 185h0M195 185h0M205 185h0M215 185h0M225 185h0M235 185h0M245 185h0M255 185h0M265 185h0M275 185h0M285 185h0M295 185h0M305 185h0M315 185h0M325 185h0M335 185h0M345 185h0M355 185h0M365 185h0M375 185h0M385 185h0M395 185h0M405 185h0M415 185h0M425 185h0M435 185h0M445 185h0M455 185h0M465 185h0M475 185h0M485 185h0M495 185h0M5 195h0M15 195h0M25 195h0M35 195h0M45 195h0M55 195h0M65 195h0M75 195h0M85 195h0M95 195h0M105 195h0M115 195h0M125 195h0M135 195h0M145 195h0M155 195h0M165 195h0M175 195h0M185 195h0M195 195h0M205 195h0M215 195h0M225 195h0M235 195h0M245 195h0M255 195h0M265 195h0M275 195h0M285 195h0M295 195h0M305 195h0M315 195h0M325 195h0M335 195h0M345 195h0M355 195h0M365 195h0M375 195h0M385 195h0M395 195h0M405 195h0M415 195h0M425 195h0M435 195h0M445 195h0M455 195h0M465 195h0M475 195h0M485 195h0M495 195h0M5 205h0M15 205h0M25 205h0M35 205h0M45 205h0M55 205h0M65 205h0M75 205h0M85 205h0M95 205h0M105 205h0M115 205h0M125 205h0M135 205h0M145 205h0M155 205h0M165 205h0M175 205h0M185 205h0M195 205h0M205 205h0M215 205h0M225 205h0M235 205h0M245 205h0M255 205h0M265 205h0M275 205h0M285 205h0M295 205h0M305 205h0M315 205h0M325 205h0M335 205h0M345 205h0M355 205h0M365 205h0M375 205h0M385 205h0M395 205h0M405 205h0M415 205h0M425 205h0M435 205h0M445 205h0M455 205h0M465 205h0M475 205h0M485 205h0M495 205h0M5 215h0M15 215h0M25 215h0M35 215h0M45 215h0M55 215h0M65 215h0M75 215h0M85 215h0M95 215h0M105 215h0M115 215h0M125 215h0M135 215h0M145 215h0M155 215h0M165 215h0M175 215h0M185 215h0M195 215h0M205 215h0M215 215h0M225 215h0M235 215h0M245 215h0M255 215h0M265 215h0M275 215h0M285 215h0M295 215h0M305 215h0M315 215h0M325 215h0M335 215h0M345 215h0M355 215h0M365 215h0M375 215h0M385 215h0M395 215h0M405 215h0M415 215h0M425 215h0M435 215h0M445 215h0M455 215h0M465 215h0M475 215h0M485 215h0M495 215h0M5 225h0M15 225h0M25 225h0M35 225h0M45 225h0M55 225h0M65 225h0M75 225h0M85 225h0M95 225h0M105 225h0M115 225h0M125 225h0M135 225h0M145 225h0M155 225h0M165 225h0M175 225h0M185 225h0M195 225h0M205 225h0M215 225h0M225 225h0M235 225h0M245 225h0M255 225h0M265 225h0M275 225h0M285 225h0M295 225h0M305 225h0M315 225h0M325 225h0M335 225h0M345 225h0M355 225h0M365 225h0M375 225h0M385 225h0M395 225h0M405 225h0M415 225h0M425 225h0M435 225h0M445 225h0M455 225h0M465 225h0M475 225h0M485 225h0M495 225h0M5 235h0M15 235h0M25 235h0M35 235h0M45 235h0M55 235h0M65 235h0M75 235h0M85 235h0M95 235h0M105 235h0M115 235h0M125 235h0M135 235h0M145 235h0M155 235h0M165 235h0M175 235h0M185 235h0M195 235h0M205 235h0M215 235h0M225 235h0M235 235h0M245 235h0M255 235h0M265 235h0M275 235h0M285 235h0M295 235h0M305 235h0M315 235h0M325 235h0M335 235h0M345 235h0M355 235h0M365 235h0M375 235h0M385 235h0M395 235h0M405 235h0M415 235h0M425 235h0M435 235h0M445 235h0M455 235h0M465 235h0M475 235h0M485 235h0M495 235h0M5 245h0M15 245h0M25 245h0M35 245h0M45 245h0M55 245h0M65 245h0M75 245h0M85 245h0M95 245h0M105 245h0M115 245h0M125 245h0M135 245h0M145 245h0M155 245h0M165 245h0M175 245h0M185 245h0M195 245h0M205 245h0M215 245h0M225 245h0M235 245h0M245 245h0M255 245h0M265 245h0M275 245h0M285 245h0M295 245h0M305 245h0M315 245h0M325 245h0M335 245h0M345 245h0M355 245h0M365 245h0M375 245h0M385 245h0M395 245h0M405 245h0M415 245h0M425 245h0M435 245h0M445 245h0M455 245h0M465 245h0M475 245h0M485 245h0M495 245h0M5 255h0M15 255h0M25 255h0M35 255h0M45 255h0M55 255h0M65 255h0M75 255h0M85 255h0M95 255h0M105 255h0M115 255h0M125 255h0M135 255h0M145 255h0M155 255h0M165 255h0M175 255h0M185 255h0M195 255h0M205 255h0M215 255h0M225 255h0M235 255h0M245 255h0M255 255h0M265 255h0M275 255h0M285 255h0M295 255h0M305 255h0M315 255h0M325 255h0M335 255h0M345 255h0M355 255h0M365 255h0M375 255h0M385 255h0M395 255h0M405 255h0M415 255h0M425 255h0M435 255h0M445 255h0M455 255h0M465 255h0M475 255h0M485 255h0M495 255h0M5 265h0M15 265h0M25 265h0M35 265h0M45 265h0M55 265h0M65 265h0M75 265h0M85 265h0M95 265h0M105 265h0M115 265h0M125 265h0M135 265h0M145 265h0M155 265h0M165 265h0M175 265h0M185 265h0M195 265h0M205 265h0M215 265h0M225 265h0M235 265h0M245 265h0M255 265h0M265 265h0M275 265h0M285 265h0M295 265h0M305 265h0M315 265h0M325 265h0M335 265h0M345 265h0M355 265h0M365 265h0M375 265h0M385 265h0M395 265h0M405 265h0M415 265h0M425 265h0M435 265h0M445 265h0M455 265h0M465 265h0M475 265h0M485 265h0M495 265h0M5 275h0M15 275h0M25 275h0M35 275h0M45 275h0M55 275h0M65 275h0M75 275h0M85 275h0M95 275h0M105 275h0M115 275h0M125 275h0M135 275h0M145 275h0M155 275h0M165 275h0M175 275h0M185 275h0M195 275h0M205 275h0M215 275h0M225 275h0M235 275h0M245 275h0M255 275h0M265 275h0M275 275h0M285 275h0M295 275h0M305 275h0M315 275h0M325 275h0M335 275h0M345 275h0M355 275h0M365 275h0M375 275h0M385 275h0M395 275h0M405 275h0M415 275h0M425 275h0M435 275h0M445 275h0M455 275h0M465 275h0M475 275h0M485 275h0M495 275h0M5 285h0M15 285h0M25 285h0M35 285h0M45 285h0M55 285h0M65 285h0M75 285h0M85 285h0M95 285h0M105 285h0M115 285h0M125 285h0M135 285h0M145 285h0M155 285h0M165 285h0M175 285h0M185 285h0M195 285h0M205 285h0M215 285h0M225 285h0M235 285h0M245 285h0M255 285h0M265 285h0M275 285h0M285 285h0M295 285h0M305 285h0M315 285h0M325 285h0M335 285h0M345 285h0M355 285h0M365 285h0M375 285h0M385 285h0M395 285h0M405 285h0M415 285h0M425 285h0M435 285h0M445 285h0M455 285h0M465 285h0M475 285h0M485 285h0M495 285h0M5 295h0M15 295h0M25 295h0M35 295h0M45 295h0M55 295h0M65 295h0M75 295h0M85 295h0M95 295h0M105 295h0M115 295h0M125 295h0M135 295h0M145 295h0M155 295h0M165 295h0M175 295h0M185 295h0M195 295h0M205 295h0M215 295h0M225 295h0M235 295h0M245 295h0M255 295h0M265 295h0M275 295h0M285 295h0M295 295h0M305 295h0M315 295h0M325 295h0M335 295h0M345 295h0M355 295h0M365 295h0M375 295h0M385 295h0M395 295h0M405 295h0M415 295h0M425 295h0M435 295h0M445 295h0M455 295h0M465 295h0M475 295h0M485 295h0M495 295h0M5 305h0M15 305h0M25 305h0M35 305h0M45 305h0M55 305h0M65 305h0M75 305h0M85 305h0M95 305h0M105 305h0M115 305h0M125 305h0M135 305h0M145 305h0M155 305h0M165 305h0M175 305h0M185 305h0M195 305h0M205 305h0M215 305h0M225 305h0M235 305h0M245 305h0M255 305h0M265 305h0M275 305h0M285 305h0M295 305h0M305 305h0M315 305h0M325 305h0M335 305h0M345 305h0M355 305h0M365 305h0M375 305h0M385 305h0M395 305h0M405 305h0M415 305h0M425 305h0M435 305h0M445 305h0M455 305h0M465 305h0M475 305h0M485 305h0M495 305h0M5 315h0M15 315h0M25 315h0M35 315h0M45 315h0M55 315h0M65 315h0M75 315h0M85 315h0M95 315h0M105 315h0M115 315h0M125 315h0M135 315h0M145 315h0M155 315h0M165 315h0M175 315h0M185 315h0M195 315h0M205 315h0M215 315h0M225 315h0M235 315h0M245 315h0M255 315h0M265 315h0M275 315h0M285 315h0M295 315h0M305 315h0M315 315h0M325 315h0M335 315h0M345 315h0M355 315h0M365 315h0M375 315h0M385 315h0M395 315h0M405 315h0M415 315h0M425 315h0M435 315h0M445 315h0M455 315h0M465 315h0M475 315h0M485 315h0M495 315h0M5 325h0M15 325h0M25 325h0M35 325h0M45 325h0M55 325h0M65 325h0M75 325h0M85 325h0M95 325h0M105 325h0M115 325h0M125 325h0M135 325h0M145 325h0M155 325h0M165 325h0M175 325h0M185 325h0M195 325h0M205 325h0M215 325h0M225 325h0M235 325h0M245 325h0M255 325h0M265 325h0M275 325h0M285 325h0M295 325h0M305 325h0M315 325h0M325 325h0M335 325h0M345 325h0M355 325h0M365 325h0M375 325h0M385 325h0M395 325h0M405 325h0M415 325h0M425 325h0M435 325h0M445 325h0M455 325h0M465 325h0M475 325h0M485 325h0M495 325h0M5 335h0M15 335h0M25 335h0M35 335h0M45 335h0M55 335h0M65 335h0M75 335h0M85 335h0M95 335h0M105 335h0M115 335h0M125 335h0M135 335h0M145 335h0M155 335h0M165 335h0M175 335h0M185 335h0M195 335h0M205 335h0M215 335h0M225 335h0M235 335h0M245 335h0M255 335h0M265 335h0M275 335h0M285 335h0M295 335h0M305 335h0M315 335h0M325 335h0M335 335h0M345 335h0M355 335h0M365 335h0M375 335h0M385 335h0M395 335h0M405 335h0M415 335h0M425 335h0M435 335h0M445 335h0M455 335h0M465 335h0M475 335h0M485 335h0M495 335h0M5 345h0M15 345h0M25 345h0M35 345h0M45 345h0M55 345h0M65 345h0M75 345h0M85 345h0M95 345h0M105 345h0M115 345h0M125 345h0M135 345h0M145 345h0M155 345h0M165 345h0M175 345h0M185 345h0M195 345h0M205 345h0M215 345h0M225 345h0M235 345h0M245 345h0M255 345h0M265 345h0M275 345h0M285 345h0M295 345h0M305 345h0M315 345h0M325 345h0M335 345h0M345 345h0M355 345h0M365 345h0M375 345h0M385 345h0M395 345h0M405 345h0M415 345h0M425 345h0M435 345h0M445 345h0M455 345h0M465 345h0M475 345h0M485 345h0M495 345h0M5 355h0M15 355h0M25 355h0M35 355h0M45 355h0M55 355h0M65 355h0M75 355h0M85 355h0M95 355h0M105 355h0M115 355h0M125 355h0M135 355h0M145 355h0M155 355h0M165 355h0M175 355h0M185 355h0M195 355h0M205 355h0M215 355h0M225 355h0M235 355h0M245 355h0M255 355h0M265 355h0M275 355h0M285 355h0M295 355h0M305 355h0M315 355h0M325 355h0M335 355h0M345 355h0M355 355h0M365 355h0M375 355h0M385 355h0M395 355h0M405 355h0M415 355h0M425 355h0M435 355h0M445 355h0M455 355h0M465 355h0M475 355h0M485 355h0M495 355h0M5 365h0M15 365h0M25 365h0M35 365h0M45 365h0M55 365h0M65 365h0M75 365h0M85 365h0M95 365h0M105 365h0M115 365h0M125 365h0M135 365h0M145 365h0M155 365h0M165 365h0M175 365h0M185 365h0M195 365h0M205 365h0M215 365h0M225 365h0M235 365h0M245 365h0M255 365h0M265 365h0M275 365h0M285 365h0M295 365h0M305 365h0M315 365h0M325 365h0M335 365h0M345 365h0M355 365h0M365 365h0M375 365h0M385 365h0M395 365h0M405 365h0M415 365h0M425 365h0M435 365h0M445 365h0M455 365h0M465 365h0M475 365h0M485 365h0M495 365h0M5 375h0M15 375h0M25 375h0M35 375h0M45 375h0M55 375h0M65 375h0M75 375h0M85 375h0M95 375h0M105 375h0M115 375h0M125 375h0M135 375h0M145 375h0M155 375h0M165 375h0M175 375h0M185 375h0M195 375h0M205 375h0M215 375h0M225 375h0M235 375h0M245 375h0M255 375h0M265 375h0M275 375h0M285 375h0M295 375h0M305 375h0M315 375h0M325 375h0M335 375h0M345 375h0M355 375h0M365 375h0M375 375h0M385 375h0M395 375h0M405 375h0M415 375h0M425 375h0M435 375h0M445 375h0M455 375h0M465 375h0M475 375h0M485 375h0M495 375h0M5 385h0M15 385h0M25 385h0M35 385h0M45 385h0M55 385h0M65 385h0M75 385h0M85 385h0M95 385h0M105 385h0M115 385h0M125 385h0M135 385h0M145 385h0M155 385h0M165 385h0M175 385h0M185 385h0M195 385h0M205 385h0M215 385h0M225 385h0M235 385h0M245 385h0M255 385h0M265 385h0M275 385h0M285 385h0M295 385h0M305 385h0M315 385h0M325 385h0M335 385h0M345 385h0M355 385h0M365 385h0M375 385h0M385 385h0M395 385h0M405 385h0M415 385h0M425 385h0M435 385h0M445 385h0M455 385h0M465 385h0M475 385h0M485 385h0M495 385h0M5 395h0M15 395h0M25 395h0M35 395h0M45 395h0M55 395h0M65 395h0M75 395h0M85 395h0M95 395h0M105 395h0M115 395h0M125 395h0M135 395h0M145 395h0M155 395h0M165 395h0M175 395h0M185 395h0M195 395h0M205 395h0M215 395h0M225 395h0M235 395h0M245 395h0M255 395h0M265 395h0M275 395h0M285 395h0M295 395h0M305 395h0M315 395h0M325 395h0M335 395h0M345 395h0M355 395h0M365 395h0M375 395h0M385 395h0M395 395h0M405 395h0M415 395h0M425 395h0M435 395h0M445 395h0M455 395h0M465 395h0M475 395h0M485 395h0M495 395h0M5 405h0M15 405h0M25 405h0M35 405h0M45 405h0M55 405h0M65 405h0M75 405h0M85 405h0M95 405h0M105 405h0M115 405h0M125 405h0M135 405h0M145 405h0M155 405h0M165 405h0M175 405h0M185 405h0M195 405h0M205 405h0M215 405h0M225 405h0M235 405h0M245 405h0M255 405h0M265 405h0M275 405h0M285 405h0M295 405h0M305 405h0M315 405h0M325 405h0M335 405h0M345 405h0M355 405h0M365 405h0M375 405h0M385 405h0M395 405h0M405 405h0M415 405h0M425 405h0M435 405h0M445 405h0M455 405h0M465 405h0M475 405h0M485 405h0M495 405h0M5 415h0M15 415h0M25 415h0M35 415h0M45 415h0M55 415h0M65 415h0M75 415h0M85 415h0M95 415h0M105 415h0M115 415h0M125 415h0M135 415h0M145 415h0M155 415h0M165 415h0M175 415h0M185 415h0M195 415h0M205 415h0M215 415h0M225 415h0M235 415h0M245 415h0M255 415h0M265 415h0M275 415h0M285 415h0M295 415h0M305 415h0M315 415h0M325 415h0M335 415h0M345 415h0M355 415h0M365 415h0M375 415h0M385 415h0M395 415h0M405 415h0M415 415h0M425 415h0M435 415h0M445 415h0M455 415h0M465 415h0M475 415h0M485 415h0M495 415h0M5 425h0M15 425h0M25 425h0M35 425h0M45 425h0M55 425h0M65 425h0M75 425h0M85 425h0M95 425h0M105 425h0M115 425h0M125 425h0M135 425h0M145 425h0M155 425h0M165 425h0M175 425h0M185 425h0M195 425h0M205 425h0M215 425h0M225 425h0M235 425h0M245 425h0M255 425h0M265 425h0M275 425h0M285 425h0M295 425h0M305 425h0M315 425h0M325 425h0M335 425h0M345 425h0M355 425h0M365 425h0M375 425h0M385 425h0M395 425h0M405 425h0M415 425h0M425 425h0M435 425h0M445 425h0M455 425h0M465 425h0M475 425h0M485 425h0M495 425h0M5 435h0M15 435h0M25 435h0M35 435h0M45 435h0M55 435h0M65 435h0M75 435h0M85 435h0M95 435h0M105 435h0M115 435h0M125 435h0M135 435h0M145 435h0M155 435h0M165 435h0M175 435h0M185 435h0M195 435h0M205 435h0M215 435h0M225 435h0M235 435h0M245 435h0M255 435h0M265 435h0M275 435h0M285 435h0M295 435h0M305 435h0M315 435h0M325 435h0M335 435h0M345 435h0M355 435h0M365 435h0M375 435h0M385 435h0M395 435h0M405 435h0M415 435h0M425 435h0M435 435h0M445 435h0M455 435h0M465 435h0M475 435h0M485 435h0M495 435h0M5 445h0M15 445h0M25 445h0M35 445h0M45 445h0M55 445h0M65 445h0M75 445h0M85 445h0M95 445h0M105 445h0M115 445h0M125 445h0M135 445h0M145 445h0M155 445h0M165 445h0M175 445h0M185 445h0M195 445h0M205 445h0M215 445h0M225 445h0M235 445h0M245 445h0M255 445h0M265 445h0M275 445h0M285 445h0M295 445h0M305 445h0M315 445h0M325 445h0M335 445h0M345 445h0M355 445h0M365 445h0M375 445h0M385 445h0M395 445h0M405 445h0M415 445h0M425 445h0M435 445h0M445 445h0M455 445h0M465 445h0M475 445h0M485 445h0M495 445h0M5 455h0M15 455h0M25 455h0M35 455h0M45 455h0M55 455h0M65 455h0M75 455h0M85 455h0M95 455h0M105 455h0M115 455h0M125 455h0M135 455h0M145 455h0M155 455h0M165 455h0M175 455h0M185 455h0M195 455h0M205 455h0M215 455h0M225 455h0M235 455h0M245 455h0M255 455h0M265 455h0M275 455h0M285 455h0M295 455h0M305 455h0M315 455h0M325 455h0M335 455h0M345 455h0M355 455h0M365 455h0M375 455h0M385 455h0M395 455h0M405 455h0M415 455h0M425 455h0M435 455h0M445 455h0M455 455h0M465 455h0M475 455h0M485 455h0M495 455h0M5 465h0M15 465h0M25 465h0M35 465h0M45 465h0M55 465h0M65 465h0M75 465h0M85 465h0M95 465h0M105 465h0M115 465h0M125 465h0M135 465h0M145 465h0M155 465h0M165 465h0M175 465h0M185 465h0M195 465h0M205 465h0M215 465h0M225 465h0M235 465h0M245 465h0M255 465h0M265 465h0M275 465h0M285 465h0M295 465h0M305 465h0M315 465h0M325 465h0M335 465h0M345 465h0M355 465h0M365 465h0M375 465h0M385 465h0M395 465h0M405 465h0M415 465h0M425 465h0M435 465h0M445 465h0M455 465h0M465 465h0M475 465h0M485 465h0M495 465h0M5 475h0M15 475h0M25 475h0M35 475h0M45 475h0M55 475h0M65 475h0M75 475h0M85 475h0M95 475h0M105 475h0M115 475h0M125 475h0M135 475h0M145 475h0M155 475h0M165 475h0M175 475h0M185 475h0M195 475h0M205 475h0M215 475h0M225 475h0M235 475h0M245 475h0M255 475h0M265 475h0M275 475h0M285 475h0M295 475h0M305 475h0M315 475h0M325 475h0M335 475h0M345 475h0M355 475h0M365 475h0M375 475h0M385 475h0M395 475h0M405 475h0M415 475h0M425 475h0M435 475h0M445 475h0M455 475h0M465 475h0M475 475h0M485 475h0M495 475h0M5 485h0M15 485h0M25 485h0M35 485h0M45 485h0M55 485h0M65 485h0M75 485h0M85 485h0M95 485h0M105 485h0M115 485h0M125 485h0M135 485h0M145 485h0M155 485h0M165 485h0M175 485h0M185 485h0M195 485h0M205 485h0M215 485h0M225 485h0M235 485h0M245 485h0M255 485h0M265 485h0M275 485h0M285 485h0M295 485h0M305 485h0M315 485h0M325 485h0M335 485h0M345 485h0M355 485h0M365 485h0M375 485h0M385 485h0M395 485h0M405 485h0M415 485h0M425 485h0M435 485h0M445 485h0M455 485h0M465 485h0M475 485h0M485 485h0M495 485h0M5 495h0M15 495h0M25 495h0M35 495h0M45 495h0M55 495h0M65 495h0M75 495h0M85 495h0M95 495h0M105 495h0M115 495h0M125 495h0M135 495h0M145 495h0M155 495h0M165 495h0M175 495h0M185 495h0M195 495h0M205 495h0M215 495h0M225 495h0M235 495h0M245 495h0M255 495h0M265 495h0M275 495h0M285 495h0M295 495h0M305 495h0M315 495h0M325 495h0M335 495h0M345 495h0M355 495h0M365 495h0M375 495h0M385 495h0M395 495h0M405 495h0M415 495h0M425 495h0M435 495h0M445 495h0M455 495h0M465 495h0M475 495h0M485 495h0M495 495h0" stroke="#000" stroke-width="5.1" stroke-linecap="round" fill="none"/>
<g fill="none" stroke-linecap="square" stroke-linejoin="round" stroke-width="2.45">
<path stroke="#EFFDF0" d="M75 15h0M135 15h0M495 25h0M55 35h0M205 45h0M235 45h0M435 45h0M415 55h0M355 65h0M145 85h0M135 95h0M265 105h0M125 115h0M145 115h0M385 125h0M215 135h0M55 145h0M245 155h0M465 155h0M345 165h0M355 165h0M435 165h0M75 175h0M285 175h0M295 175h0M395 185h0M415 185h0M355 205h0M5 215h0M25 215h0M155 215h0M355 215h0M485 215h0M255 225h0M315 225h0M45 235h0M275 245h0M295 245h0M105 255h0M15 265h0M15 275h0M215 275h0M355 275h0M415 285h0M15 295h0M285 295h0M335 305h0M345 305h0M445 305h0M295 315h0M305 315h0M185 325h0M255 325h0M405 325h0M475 325h0M15 335h0M195 335h0M205 335h0M385 335h0M45 345h0M125 345h0M205 345h0M225 345h0M235 345h0M355 345h0M365 345h0M125 355h0M165 365h0M475 365h0M345 375h0M165 385h0M315 385h0M415 395h0M75 405h0M345 415h0M375 415h0M5 435h0M45 435h0M255 435h0M435 435h0M445 445h0M165 455h0M295 455h0M205 465h0M385 465h0M455 465h0M425 475h0M485 475h0M65 485h0M495 495h0"/>
<path stroke="#D4FFDD" d="M75 5h0M195 5h0M225 15h0M65 25h0M175 25h0M35 45h0M75 85h0M105 85h0M485 85h0M125 95h0M155 95h0M15 145h0M355 175h0M495 175h0M395 195h0M15 205h0M285 405h0M235 465h0"/>
<path stroke="#BBFFDB" d="M185 5h0M225 5h0M425 5h0M365 15h0M325 25h0M425 25h0M445 25h0M225 35h0M345 35h0M405 35h0M105 45h0M335 45h0M235 55h0M285 55h0M95 65h0M325 65h0M335 75h0M345 75h0M415 75h0M485 75h0M135 85h0M425 85h0M165 95h0M255 95h0M385 95h0M435 95h0M445 95h0M455 95h0M125 105h0M145 105h0M165 105h0M285 105h0M315 105h0M395 105h0M475 105h0M495 105h0M85 115h0M195 115h0M275 115h0M315 115h0M385 115h0M425 125h0M55 135h0M185 135h0M335 135h0M425 135h0M475 135h0M25 145h0M325 145h0M365 145h0M375 155h0M415 155h0M15 165h0M125 165h0M145 165h0M225 165h0M15 175h0M25 175h0M35 175h0M45 175h0M135 175h0M395 175h0M425 175h0M15 185h0M355 185h0M445 185h0M5 195h0M85 195h0M195 195h0M235 195h0M295 195h0M335 195h0M435 195h0M455 195h0M55 205h0M125 205h0M165 205h0M185 205h0M15 215h0M45 215h0M65 215h0M115 215h0M125 215h0M315 215h0M345 215h0M405 215h0M335 225h0M345 225h0M415 225h0M205 235h0M285 235h0M185 245h0M245 245h0M335 245h0M85 255h0M195 255h0M215 255h0M255 255h0M275 255h0M295 255h0M365 255h0M375 255h0M55 265h0M475 265h0M495 265h0M95 275h0M365 275h0M105 285h0M205 285h0M435 285h0M455 285h0M45 295h0M65 295h0M165 295h0M185 295h0M325 295h0M65 305h0M365 305h0M85 315h0M105 315h0M175 315h0M315 315h0M345 315h0M375 315h0M235 325h0M185 335h0M345 335h0M395 335h0M25 345h0M95 345h0M325 345h0M435 345h0M85 355h0M135 355h0M185 355h0M225 355h0M125 365h0M235 365h0M435 365h0M35 375h0M85 375h0M205 375h0M285 375h0M315 375h0M355 375h0M385 375h0M425 375h0M65 385h0M95 385h0M295 385h0M365 385h0M405 385h0M115 395h0M305 395h0M355 395h0M425 395h0M485 395h0M5 405h0M35 405h0M485 405h0M495 405h0M155 415h0M275 415h0M295 415h0M365 415h0M395 415h0M105 425h0M155 425h0M215 425h0M345 425h0M495 425h0M15 435h0M275 435h0M375 435h0M35 445h0M95 445h0M165 445h0M205 445h0M215 445h0M405 445h0M85 455h0M125 455h0M245 455h0M365 455h0M435 455h0M465 455h0M25 465h0M35 465h0M65 465h0M265 465h0M305 465h0M5 475h0M55 475h0M135 475h0M255 475h0M445 475h0M5 485h0M85 485h0M95 485h0M225 485h0M235 485h0M315 485h0M95 495h0M325 495h0"/>
<path stroke="#96FFF7" d="M155 5h0M285 5h0M375 5h0M475 5h0M415 15h0M455 15h0M5 25h0M35 25h0M375 25h0M155 35h0M315 35h0M55 45h0M395 45h0M405 45h0M465 45h0M275 55h0M295 65h0M85 75h0M365 85h0M195 95h0M55 105h0M215 105h0M245 105h0M295 105h0M305 105h0M325 105h0M355 105h0M485 105h0M305 115h0M365 115h0M425 115h0M55 125h0M325 125h0M25 135h0M115 135h0M205 135h0M245 135h0M235 145h0M305 145h0M385 145h0M455 145h0M15 155h0M135 155h0M475 155h0M405 165h0M405 175h0M65 185h0M85 185h0M155 185h0M245 185h0M275 185h0M455 185h0M475 185h0M155 195h0M305 195h0M405 195h0M115 205h0M175 205h0M305 205h0M105 215h0M135 215h0M145 215h0M205 215h0M305 215h0M395 215h0M135 225h0M155 225h0M355 225h0M365 225h0M375 225h0M335 235h0M415 235h0M495 235h0M325 245h0M385 245h0M5 255h0M155 255h0M465 255h0M485 255h0M95 265h0M185 265h0M235 265h0M265 265h0M465 265h0M55 275h0M105 275h0M395 275h0M35 285h0M55 295h0M265 295h0M355 295h0M325 305h0M245 315h0M335 315h0M395 315h0M165 325h0M305 325h0M145 335h0M165 335h0M495 335h0M215 345h0M285 345h0M415 345h0M375 355h0M45 365h0M55 365h0M85 365h0M135 365h0M275 365h0M335 365h0M115 375h0M125 375h0M165 375h0M245 375h0M325 375h0M135 385h0M25 415h0M175 415h0M75 425h0M95 425h0M165 425h0M245 425h0M355 425h0M435 425h0M445 425h0M465 425h0M105 435h0M405 435h0M15 445h0M55 445h0M85 445h0M125 445h0M365 445h0M415 445h0M435 445h0M475 445h0M145 455h0M335 455h0M485 455h0M45 465h0M125 465h0M445 465h0M475 465h0M125 475h0M465 475h0M35 485h0M105 485h0M465 485h0M85 495h0M195 495h0M345 495h0"/>
<path stroke="#86E9FE" d="M355 25h0"/>
<path stroke="#6FC4FE" d="M115 5h0M245 5h0M105 15h0M105 25h0M235 25h0M315 25h0M335 25h0M45 35h0M355 35h0M435 35h0M15 45h0M245 45h0M255 45h0M45 55h0M85 55h0M145 55h0M185 55h0M245 55h0M365 55h0M405 55h0M435 55h0M85 65h0M275 65h0M215 85h0M115 95h0M235 95h0M5 105h0M295 115h0M485 115h0M145 125h0M275 125h0M85 135h0M125 135h0M305 135h0M345 135h0M45 145h0M5 155h0M215 155h0M285 165h0M125 175h0M415 175h0M75 185h0M135 185h0M385 185h0M25 195h0M125 195h0M135 195h0M175 195h0M415 195h0M175 215h0M255 215h0M495 215h0M285 225h0M35 235h0M115 235h0M265 235h0M475 235h0M35 245h0M105 245h0M315 245h0M265 255h0M415 255h0M65 265h0M85 265h0M305 265h0M115 285h0M165 285h0M275 285h0M425 295h0M385 305h0M475 305h0M415 315h0M325 325h0M415 335h0M305 345h0M105 355h0M375 365h0M65 375h0M145 375h0M235 375h0M455 375h0M495 375h0M85 385h0M345 385h0M195 395h0M245 395h0M395 395h0M95 405h0M215 405h0M255 405h0M265 405h0M95 415h0M85 425h0M115 425h0M285 425h0M325 425h0M475 425h0M185 435h0M475 435h0M35 455h0M355 455h0M375 455h0M425 465h0M285 475h0M75 485h0M165 485h0M15 495h0M205 495h0"/>
<path stroke="#5E8EFF" d="M415 5h0M65 15h0M275 15h0M145 25h0M405 25h0M185 35h0M75 45h0M355 45h0M175 55h0M445 65h0M45 75h0M185 75h0M215 75h0M325 75h0M15 85h0M345 95h0M375 105h0M245 125h0M255 125h0M415 125h0M435 135h0M455 135h0M95 155h0M385 165h0M415 165h0M425 165h0M65 175h0M325 175h0M205 205h0M35 215h0M185 215h0M455 215h0M365 245h0M425 255h0M455 255h0M205 265h0M275 275h0M185 285h0M395 285h0M205 295h0M125 325h0M205 325h0M15 345h0M445 345h0M165 355h0M345 365h0M375 375h0M255 385h0M335 385h0M15 395h0M215 395h0M345 405h0M15 415h0M35 415h0M355 415h0M265 425h0M375 425h0M385 425h0M445 435h0M185 445h0M225 455h0M425 455h0M145 465h0M155 465h0M175 465h0M245 465h0M265 475h0M405 475h0M115 495h0"/>
<path stroke="#4B4CFF" d="M65 5h0M125 5h0M335 15h0M385 15h0M95 35h0M245 35h0M445 35h0M495 35h0M45 45h0M145 45h0M165 45h0M315 45h0M375 45h0M105 55h0M355 55h0M385 55h0M15 65h0M25 65h0M395 65h0M465 65h0M125 75h0M205 85h0M395 85h0M55 95h0M65 95h0M375 95h0M335 105h0M405 105h0M175 115h0M135 145h0M315 145h0M485 145h0M165 155h0M355 155h0M65 165h0M105 165h0M135 165h0M295 165h0M485 165h0M85 175h0M145 175h0M485 175h0M115 185h0M315 195h0M355 195h0M465 195h0M25 205h0M455 205h0M225 215h0M5 225h0M195 225h0M265 225h0M15 245h0M155 245h0M195 245h0M355 245h0M185 255h0M75 275h0M125 275h0M385 275h0M125 285h0M475 285h0M75 295h0M395 295h0M5 305h0M125 305h0M165 305h0M355 305h0M5 325h0M25 325h0M85 325h0M455 325h0M465 325h0M115 335h0M35 355h0M235 355h0M145 365h0M225 375h0M335 395h0M25 405h0M115 405h0M155 405h0M295 405h0M165 415h0M145 425h0M395 425h0M155 435h0M395 435h0M5 445h0M75 445h0M315 445h0M355 465h0M365 475h0M145 485h0M55 495h0"/>
<path stroke="#7B1DFF" d="M15 5h0M25 5h0M35 5h0M85 5h0M105 5h0M145 5h0M165 5h0M215 5h0M235 5h0M275 5h0M295 5h0M305 5h0M315 5h0M325 5h0M335 5h0M355 5h0M365 5h0M385 5h0M395 5h0M405 5h0M435 5h0M445 5h0M455 5h0M485 5h0M495 5h0M15 15h0M25 15h0M45 15h0M55 15h0M115 15h0M155 15h0M165 15h0M175 15h0M185 15h0M195 15h0M205 15h0M215 15h0M235 15h0M245 15h0M255 15h0M285 15h0M295 15h0M315 15h0M325 15h0M345 15h0M355 15h0M375 15h0M425 15h0M435 15h0M445 15h0M485 15h0M15 25h0M45 25h0M85 25h0M95 25h0M135 25h0M155 25h0M185 25h0M195 25h0M215 25h0M225 25h0M245 25h0M255 25h0M265 25h0M305 25h0M365 25h0M385 25h0M435 25h0M455 25h0M465 25h0M475 25h0M15 35h0M65 35h0M105 35h0M115 35h0M125 35h0M135 35h0M175 35h0M195 35h0M205 35h0M235 35h0M255 35h0M275 35h0M285 35h0M295 35h0M305 35h0M325 35h0M385 35h0M395 35h0M455 35h0M465 35h0M475 35h0M485 35h0M5 45h0M65 45h0M95 45h0M115 45h0M135 45h0M155 45h0M175 45h0M185 45h0M225 45h0M295 45h0M325 45h0M385 45h0M455 45h0M475 45h0M485 45h0M5 55h0M15 55h0M25 55h0M35 55h0M55 55h0M75 55h0M95 55h0M115 55h0M135 55h0M155 55h0M215 55h0M225 55h0M255 55h0M265 55h0M305 55h0M315 55h0M325 55h0M335 55h0M345 55h0M375 55h0M455 55h0M465 55h0M475 55h0M485 55h0M35 65h0M45 65h0M55 65h0M65 65h0M75 65h0M105 65h0M125 65h0M155 65h0M165 65h0M195 65h0M225 65h0M245 65h0M285 65h0M315 65h0M335 65h0M345 65h0M365 65h0M375 65h0M385 65h0M405 65h0M415 65h0M425 65h0M435 65h0M495 65h0M5 75h0M15 75h0M25 75h0M35 75h0M55 75h0M75 75h0M115 75h0M135 75h0M165 75h0M175 75h0M195 75h0M205 75h0M225 75h0M235 75h0M245 75h0M255 75h0M305 75h0M365 75h0M375 75h0M425 75h0M445 75h0M465 75h0M495 75h0M5 85h0M25 85h0M35 85h0M45 85h0M95 85h0M125 85h0M155 85h0M165 85h0M185 85h0M195 85h0M225 85h0M235 85h0M245 85h0M255 85h0M265 85h0M275 85h0M295 85h0M325 85h0M335 85h0M355 85h0M375 85h0M385 85h0M415 85h0M435 85h0M445 85h0M455 85h0M495 85h0M5 95h0M15 95h0M25 95h0M35 95h0M75 95h0M85 95h0M105 95h0M185 95h0M225 95h0M245 95h0M275 95h0M295 95h0M305 95h0M315 95h0M335 95h0M355 95h0M365 95h0M405 95h0M465 95h0M475 95h0M485 95h0M15 105h0M25 105h0M35 105h0M65 105h0M75 105h0M85 105h0M95 105h0M105 105h0M115 105h0M135 105h0M155 105h0M185 105h0M195 105h0M205 105h0M225 105h0M275 105h0M345 105h0M365 105h0M5 115h0M15 115h0M55 115h0M75 115h0M105 115h0M115 115h0M135 115h0M165 115h0M225 115h0M255 115h0M265 115h0M335 115h0M375 115h0M395 115h0M415 115h0M435 115h0M455 115h0M475 115h0M5 125h0M15 125h0M25 125h0M45 125h0M65 125h0M75 125h0M85 125h0M105 125h0M115 125h0M135 125h0M155 125h0M175 125h0M205 125h0M215 125h0M225 125h0M265 125h0M285 125h0M305 125h0M315 125h0M335 125h0M375 125h0M395 125h0M405 125h0M435 125h0M445 125h0M455 125h0M485 125h0M495 125h0M5 135h0M15 135h0M35 135h0M65 135h0M75 135h0M95 135h0M105 135h0M135 135h0M225 135h0M235 135h0M255 135h0M265 135h0M275 135h0M295 135h0M315 135h0M355 135h0M395 135h0M405 135h0M415 135h0M445 135h0M5 145h0M65 145h0M85 145h0M95 145h0M105 145h0M125 145h0M155 145h0M165 145h0M175 145h0M185 145h0M205 145h0M225 145h0M245 145h0M255 145h0M265 145h0M275 145h0M285 145h0M295 145h0M345 145h0M355 145h0M415 145h0M445 145h0M465 145h0M475 145h0M35 155h0M55 155h0M65 155h0M75 155h0M105 155h0M115 155h0M125 155h0M145 155h0M185 155h0M195 155h0M225 155h0M235 155h0M255 155h0M265 155h0M305 155h0M315 155h0M345 155h0M365 155h0M385 155h0M445 155h0M455 155h0M485 155h0M495 155h0M25 165h0M35 165h0M45 165h0M75 165h0M85 165h0M95 165h0M115 165h0M155 165h0M165 165h0M175 165h0M185 165h0M195 165h0M215 165h0M235 165h0M245 165h0M275 165h0M315 165h0M325 165h0M365 165h0M375 165h0M395 165h0M455 165h0M465 165h0M475 165h0M5 175h0M95 175h0M155 175h0M185 175h0M195 175h0M205 175h0M215 175h0M225 175h0M255 175h0M305 175h0M365 175h0M385 175h0M435 175h0M465 175h0M25 185h0M45 185h0M55 185h0M105 185h0M125 185h0M175 185h0M185 185h0M205 185h0M225 185h0M255 185h0M285 185h0M295 185h0M305 185h0M315 185h0M325 185h0M375 185h0M405 185h0M425 185h0M465 185h0M485 185h0M15 195h0M35 195h0M45 195h0M75 195h0M105 195h0M115 195h0M145 195h0M185 195h0M205 195h0M215 195h0M245 195h0M255 195h0M265 195h0M275 195h0M285 195h0M345 195h0M365 195h0M375 195h0M385 195h0M445 195h0M475 195h0M5 205h0M35 205h0M45 205h0M95 205h0M135 205h0M215 205h0M225 205h0M235 205h0M255 205h0M275 205h0M315 205h0M325 205h0M335 205h0M345 205h0M395 205h0M405 205h0M415 205h0M435 205h0M465 205h0M485 205h0M495 205h0M85 215h0M95 215h0M215 215h0M245 215h0M285 215h0M325 215h0M375 215h0M385 215h0M415 215h0M425 215h0M435 215h0M445 215h0M475 215h0M25 225h0M45 225h0M55 225h0M75 225h0M95 225h0M105 225h0M115 225h0M165 225h0M185 225h0M215 225h0M225 225h0M305 225h0M325 225h0M385 225h0M395 225h0M425 225h0M455 225h0M465 225h0M475 225h0M485 225h0M495 225h0M25 235h0M55 235h0M65 235h0M135 235h0M165 235h0M175 235h0M195 235h0M255 235h0M275 235h0M295 235h0M315 235h0M325 235h0M345 235h0M355 235h0M365 235h0M375 235h0M385 235h0M405 235h0M425 235h0M435 235h0M455 235h0M25 245h0M55 245h0M85 245h0M95 245h0M115 245h0M125 245h0M135 245h0M145 245h0M175 245h0M205 245h0M215 245h0M225 245h0M235 245h0M255 245h0M285 245h0M305 245h0M345 245h0M395 245h0M415 245h0M445 245h0M465 245h0M475 245h0M485 245h0M15 255h0M25 255h0M35 255h0M55 255h0M75 255h0M95 255h0M115 255h0M145 255h0M175 255h0M245 255h0M285 255h0M305 255h0M315 255h0M335 255h0M355 255h0M395 255h0M405 255h0M475 255h0M5 265h0M25 265h0M45 265h0M75 265h0M115 265h0M145 265h0M155 265h0M175 265h0M215 265h0M225 265h0M245 265h0M275 265h0M285 265h0M325 265h0M345 265h0M355 265h0M365 265h0M375 265h0M385 265h0M395 265h0M425 265h0M435 265h0M445 265h0M455 265h0M25 275h0M35 275h0M65 275h0M85 275h0M145 275h0M155 275h0M165 275h0M185 275h0M205 275h0M235 275h0M245 275h0M255 275h0M265 275h0M295 275h0M305 275h0M315 275h0M335 275h0M345 275h0M405 275h0M415 275h0M425 275h0M435 275h0M455 275h0M475 275h0M485 275h0M5 285h0M15 285h0M45 285h0M85 285h0M95 285h0M145 285h0M155 285h0M195 285h0M215 285h0M225 285h0M245 285h0M265 285h0M295 285h0M305 285h0M315 285h0M335 285h0M345 285h0M365 285h0M385 285h0M85 295h0M95 295h0M105 295h0M115 295h0M135 295h0M145 295h0M155 295h0M175 295h0M195 295h0M215 295h0M225 295h0M235 295h0M255 295h0M275 295h0M295 295h0M315 295h0M335 295h0M375 295h0M385 295h0M405 295h0M435 295h0M445 295h0M455 295h0M465 295h0M475 295h0M485 295h0M495 295h0M25 305h0M35 305h0M45 305h0M55 305h0M75 305h0M85 305h0M95 305h0M115 305h0M155 305h0M175 305h0M185 305h0M195 305h0M205 305h0M225 305h0M235 305h0M265 305h0M275 305h0M305 305h0M315 305h0M395 305h0M425 305h0M435 305h0M465 305h0M485 305h0M5 315h0M15 315h0M25 315h0M45 315h0M75 315h0M95 315h0M125 315h0M145 315h0M155 315h0M185 315h0M215 315h0M255 315h0M275 315h0M285 315h0M325 315h0M405 315h0M425 315h0M435 315h0M445 315h0M455 315h0M465 315h0M495 315h0M15 325h0M35 325h0M45 325h0M55 325h0M65 325h0M75 325h0M115 325h0M155 325h0M175 325h0M195 325h0M215 325h0M225 325h0M265 325h0M285 325h0M295 325h0M395 325h0M415 325h0M445 325h0M495 325h0M45 335h0M55 335h0M85 335h0M95 335h0M105 335h0M155 335h0M225 335h0M255 335h0M265 335h0M275 335h0M285 335h0M295 335h0M305 335h0M315 335h0M335 335h0M355 335h0M365 335h0M375 335h0M405 335h0M425 335h0M455 335h0M475 335h0M5 345h0M55 345h0M75 345h0M85 345h0M105 345h0M115 345h0M135 345h0M145 345h0M155 345h0M175 345h0M185 345h0M245 345h0M255 345h0M265 345h0M315 345h0M335 345h0M345 345h0M395 345h0M405 345h0M425 345h0M455 345h0M465 345h0M495 345h0M5 355h0M15 355h0M25 355h0M45 355h0M55 355h0M65 355h0M95 355h0M115 355h0M195 355h0M205 355h0M245 355h0M265 355h0M285 355h0M295 355h0M305 355h0M315 355h0M325 355h0M335 355h0M355 355h0M365 355h0M385 355h0M395 355h0M405 355h0M415 355h0M455 355h0M465 355h0M485 355h0M495 355h0M15 365h0M25 365h0M35 365h0M95 365h0M115 365h0M155 365h0M175 365h0M185 365h0M195 365h0M205 365h0M215 365h0M225 365h0M245 365h0M285 365h0M305 365h0M315 365h0M325 365h0M355 365h0M365 365h0M385 365h0M395 365h0M405 365h0M485 365h0M5 375h0M15 375h0M45 375h0M55 375h0M175 375h0M185 375h0M195 375h0M215 375h0M255 375h0M265 375h0M275 375h0M395 375h0M405 375h0M415 375h0M435 375h0M445 375h0M465 375h0M475 375h0M485 375h0M5 385h0M15 385h0M25 385h0M45 385h0M55 385h0M75 385h0M105 385h0M115 385h0M155 385h0M185 385h0M195 385h0M205 385h0M225 385h0M235 385h0M265 385h0M275 385h0M285 385h0M325 385h0M375 385h0M385 385h0M395 385h0M415 385h0M425 385h0M435 385h0M445 385h0M455 385h0M465 385h0M495 385h0M25 395h0M35 395h0M45 395h0M75 395h0M85 395h0M95 395h0M105 395h0M125 395h0M165 395h0M205 395h0M225 395h0M235 395h0M255 395h0M265 395h0M275 395h0M285 395h0M295 395h0M315 395h0M345 395h0M375 395h0M405 395h0M445 395h0M455 395h0M465 395h0M495 395h0M15 405h0M45 405h0M55 405h0M85 405h0M105 405h0M125 405h0M135 405h0M145 405h0M165 405h0M185 405h0M205 405h0M225 405h0M235 405h0M245 405h0M305 405h0M335 405h0M355 405h0M365 405h0M385 405h0M395 405h0M415 405h0M425 405h0M435 405h0M455 405h0M5 415h0M65 415h0M75 415h0M85 415h0M105 415h0M115 415h0M125 415h0M135 415h0M185 415h0M195 415h0M225 415h0M235 415h0M245 415h0M255 415h0M265 415h0M285 415h0M305 415h0M325 415h0M385 415h0M425 415h0M435 415h0M445 415h0M455 415h0M465 415h0M475 415h0M495 415h0M5 425h0M125 425h0M135 425h0M195 425h0M205 425h0M235 425h0M255 425h0M275 425h0M295 425h0M305 425h0M315 425h0M365 425h0M405 425h0M415 425h0M485 425h0M25 435h0M75 435h0M95 435h0M145 435h0M165 435h0M175 435h0M195 435h0M215 435h0M235 435h0M245 435h0M285 435h0M305 435h0M325 435h0M335 435h0M345 435h0M365 435h0M385 435h0M415 435h0M495 435h0M25 445h0M45 445h0M65 445h0M105 445h0M155 445h0M175 445h0M195 445h0M235 445h0M245 445h0M255 445h0M275 445h0M285 445h0M295 445h0M305 445h0M355 445h0M395 445h0M425 445h0M455 445h0M465 445h0M485 445h0M495 445h0M5 455h0M15 455h0M45 455h0M55 455h0M65 455h0M95 455h0M105 455h0M115 455h0M135 455h0M155 455h0M175 455h0M195 455h0M205 455h0M235 455h0M255 455h0M275 455h0M285 455h0M315 455h0M345 455h0M385 455h0M405 455h0M415 455h0M445 455h0M495 455h0M55 465h0M75 465h0M105 465h0M115 465h0M165 465h0M195 465h0M225 465h0M255 465h0M295 465h0M315 465h0M335 465h0M345 465h0M365 465h0M375 465h0M395 465h0M435 465h0M465 465h0M485 465h0M15 475h0M25 475h0M35 475h0M95 475h0M105 475h0M115 475h0M155 475h0M165 475h0M175 475h0M195 475h0M205 475h0M235 475h0M305 475h0M315 475h0M325 475h0M345 475h0M355 475h0M375 475h0M395 475h0M415 475h0M435 475h0M475 475h0M495 475h0M45 485h0M115 485h0M125 485h0M185 485h0M215 485h0M255 485h0M265 485h0M295 485h0M325 485h0M345 485h0M355 485h0M375 485h0M385 485h0M395 485h0M405 485h0M415 485h0M425 485h0M435 485h0M455 485h0M475 485h0M485 485h0M495 485h0M5 495h0M25 495h0M105 495h0M155 495h0M165 495h0M175 495h0M185 495h0M225 495h0M245 495h0M265 495h0M275 495h0M285 495h0M305 495h0M315 495h0M355 495h0M365 495h0M375 495h0M385 495h0M395 495h0M405 495h0M415 495h0M425 495h0M435 495h0M445 495h0M465 495h0M485 495h0"/>
<path stroke="#AB08FF" d="M5 5h0M95 5h0M465 15h0M395 25h0M425 35h0M125 55h0M195 55h0M205 55h0M495 55h0M255 65h0M315 75h0M115 85h0M215 115h0M125 125h0M185 125h0M435 145h0M205 155h0M295 155h0M115 175h0M265 175h0M475 175h0M195 185h0M75 215h0M65 245h0M355 285h0M375 285h0M445 285h0M105 305h0M255 305h0M355 315h0M335 325h0M195 345h0M445 355h0M415 365h0M75 375h0M5 395h0M75 455h0M55 485h0M155 485h0M455 495h0"/>
<path stroke="#E401E7" d="M45 5h0M275 25h0M35 35h0M265 35h0M85 45h0M195 45h0M145 65h0M35 125h0M325 135h0M495 145h0M155 155h0M445 175h0M145 185h0M335 185h0M225 195h0M105 205h0M265 215h0M335 215h0M85 225h0M175 225h0M405 225h0M5 235h0M185 235h0M125 255h0M205 255h0M485 265h0M135 285h0M175 285h0M295 305h0M375 305h0M115 315h0M205 315h0M225 315h0M475 315h0M145 325h0M65 335h0M235 335h0M325 335h0M385 345h0M485 345h0M145 355h0M175 355h0M425 355h0M435 355h0M295 365h0M425 365h0M155 375h0M335 375h0M65 395h0M175 395h0M275 405h0M325 405h0M55 415h0M185 425h0M335 425h0M425 425h0M65 435h0M425 435h0M115 445h0M345 445h0M395 455h0M225 475h0M455 475h0M15 485h0M285 485h0M305 485h0M335 485h0M475 495h0"/>
<path stroke="#D506AD" d="M265 5h0M85 15h0M395 15h0M405 15h0M55 25h0M295 25h0M485 25h0M165 35h0M215 35h0M215 45h0M365 45h0M425 55h0M205 65h0M305 65h0M455 65h0M455 75h0M285 85h0M305 85h0M465 85h0M265 95h0M235 115h0M465 115h0M145 135h0M425 155h0M345 175h0M235 215h0M275 215h0M295 215h0M85 235h0M235 235h0M445 235h0M5 245h0M135 275h0M255 285h0M285 285h0M375 325h0M275 345h0M65 365h0M95 375h0M185 395h0M385 395h0M315 405h0M65 425h0M225 435h0M485 435h0M185 455h0M265 455h0"/>
<path stroke="#CD0778" d="M205 5h0M5 15h0M475 15h0M165 25h0M285 25h0M415 45h0M165 55h0M265 65h0M105 75h0M295 75h0M475 75h0M45 95h0M205 95h0M425 95h0M385 105h0M425 105h0M25 115h0M205 115h0M445 115h0M495 115h0M95 125h0M165 125h0M355 125h0M465 135h0M495 135h0M335 145h0M395 145h0M425 145h0M175 155h0M335 155h0M395 155h0M405 155h0M265 165h0M165 175h0M175 175h0M275 175h0M35 185h0M165 185h0M55 195h0M165 195h0M485 195h0M245 205h0M285 205h0M365 205h0M375 205h0M475 205h0M165 215h0M145 225h0M275 225h0M445 225h0M265 245h0M375 245h0M455 245h0M165 255h0M225 255h0M325 255h0M35 265h0M295 265h0M315 265h0M405 265h0M45 275h0M175 275h0M285 275h0M495 275h0M55 285h0M495 285h0M245 295h0M345 295h0M135 315h0M95 325h0M275 325h0M345 325h0M485 325h0M135 335h0M175 335h0M165 345h0M375 345h0M215 355h0M475 355h0M455 365h0M135 375h0M365 375h0M35 385h0M305 385h0M475 385h0M135 395h0M365 395h0M65 405h0M375 405h0M445 405h0M405 415h0M415 415h0M175 425h0M85 435h0M115 435h0M265 435h0M315 435h0M465 435h0M25 455h0M215 455h0M325 455h0M95 465h0M275 465h0M325 465h0M405 465h0M45 475h0M75 475h0M145 475h0M275 475h0M335 475h0M65 495h0M125 495h0M295 495h0"/>
<path stroke="#B50142" d="M55 5h0M465 5h0M35 15h0M95 15h0M145 15h0M85 35h0M375 35h0M275 45h0M305 45h0M495 45h0M155 75h0M265 75h0M405 75h0M345 85h0M475 85h0M495 95h0M35 115h0M95 115h0M245 115h0M325 115h0M355 115h0M345 125h0M475 125h0M45 135h0M175 135h0M365 135h0M385 135h0M115 145h0M375 145h0M25 155h0M45 155h0M215 185h0M235 185h0M365 215h0M65 225h0M245 225h0M225 235h0M465 235h0M75 245h0M45 255h0M235 255h0M345 255h0M165 265h0M225 275h0M375 275h0M465 275h0M25 285h0M405 285h0M425 285h0M5 295h0M415 295h0M135 305h0M165 315h0M245 325h0M315 325h0M75 355h0M255 365h0M265 365h0M25 375h0M105 375h0M125 385h0M215 385h0M205 415h0M335 415h0M125 435h0M135 435h0M145 445h0M305 455h0M475 455h0M135 465h0M445 485h0M135 495h0M335 495h0"/>
<path stroke="#A7000F" d="M345 5h0M265 15h0M305 15h0M115 25h0M25 45h0M285 45h0M445 55h0M115 65h0M95 75h0M275 75h0M285 75h0M355 75h0M85 85h0M175 85h0M405 85h0M285 95h0M325 95h0M45 105h0M445 105h0M285 115h0M365 125h0M485 135h0M35 145h0M215 145h0M85 155h0M285 155h0M445 165h0M265 185h0M155 205h0M195 205h0M295 205h0M205 225h0M485 235h0M165 245h0M125 265h0M335 265h0M325 275h0M65 285h0M25 295h0M35 295h0M365 295h0M145 305h0M215 305h0M495 305h0M65 315h0M435 325h0M25 335h0M35 335h0M435 335h0M445 335h0M465 365h0M145 385h0M245 385h0M55 395h0M475 395h0M35 425h0M45 425h0M55 425h0M35 435h0M205 435h0M355 435h0M375 445h0M5 465h0M245 475h0M175 485h0M245 485h0M35 495h0M45 495h0"/>
<path stroke="#891901" d="M125 15h0M25 25h0M345 25h0M265 45h0M445 45h0M295 55h0M5 65h0M135 65h0M175 65h0M455 105h0M465 105h0M185 115h0M345 115h0M155 135h0M285 135h0M195 145h0M325 155h0M205 165h0M495 185h0M385 205h0M445 205h0M15 225h0M15 235h0M395 235h0M385 255h0M435 255h0M495 255h0M255 265h0M15 305h0M285 305h0M55 315h0M365 325h0M125 335h0M245 335h0M35 345h0M155 355h0M445 365h0M295 375h0M305 375h0M175 385h0M355 385h0M145 395h0M325 395h0M145 415h0M455 425h0M455 435h0M135 445h0M325 445h0M285 465h0M135 485h0"/>
<path stroke="#743703" d="M135 5h0M175 5h0M255 5h0M495 15h0M75 25h0M125 25h0M205 25h0M415 25h0M5 35h0M25 35h0M75 35h0M145 35h0M335 35h0M365 35h0M415 35h0M125 45h0M345 45h0M425 45h0M65 55h0M395 55h0M185 65h0M215 65h0M235 65h0M475 65h0M485 65h0M65 75h0M145 75h0M385 75h0M395 75h0M435 75h0M55 85h0M315 85h0M95 95h0M145 95h0M175 95h0M215 95h0M395 95h0M415 95h0M175 105h0M235 105h0M255 105h0M415 105h0M435 105h0M45 115h0M65 115h0M155 115h0M405 115h0M195 125h0M235 125h0M295 125h0M465 125h0M165 135h0M195 135h0M375 135h0M75 145h0M145 145h0M405 145h0M275 155h0M435 155h0M5 165h0M55 165h0M255 165h0M305 165h0M335 165h0M495 165h0M55 175h0M105 175h0M235 175h0M245 175h0M315 175h0M335 175h0M375 175h0M455 175h0M5 185h0M95 185h0M345 185h0M365 185h0M435 185h0M65 195h0M95 195h0M325 195h0M425 195h0M495 195h0M65 205h0M75 205h0M85 205h0M145 205h0M265 205h0M425 205h0M55 215h0M195 215h0M465 215h0M35 225h0M125 225h0M235 225h0M295 225h0M435 225h0M75 235h0M95 235h0M105 235h0M125 235h0M145 235h0M155 235h0M215 235h0M245 235h0M305 235h0M45 245h0M405 245h0M425 245h0M435 245h0M495 245h0M65 255h0M135 255h0M445 255h0M105 265h0M135 265h0M195 265h0M415 265h0M5 275h0M115 275h0M195 275h0M445 275h0M75 285h0M235 285h0M325 285h0M465 285h0M485 285h0M125 295h0M305 295h0M245 305h0M405 305h0M415 305h0M455 305h0M35 315h0M195 315h0M235 315h0M265 315h0M365 315h0M385 315h0M485 315h0M105 325h0M135 325h0M355 325h0M385 325h0M425 325h0M5 335h0M75 335h0M215 335h0M465 335h0M485 335h0M65 345h0M295 345h0M475 345h0M255 355h0M275 355h0M345 355h0M5 365h0M75 365h0M105 365h0M495 365h0M485 385h0M155 395h0M435 395h0M175 405h0M195 405h0M405 405h0M465 405h0M475 405h0M45 415h0M215 415h0M315 415h0M485 415h0M15 425h0M25 425h0M225 425h0M55 435h0M295 435h0M225 445h0M265 445h0M335 445h0M385 445h0M455 455h0M15 465h0M85 465h0M185 465h0M215 465h0M415 465h0M495 465h0M65 475h0M85 475h0M185 475h0M215 475h0M295 475h0M385 475h0M25 485h0M195 485h0M205 485h0M275 485h0M365 485h0M75 495h0M145 495h0M215 495h0M235 495h0M255 495h0"/>
<path stroke="#673F03" d="M65 85h0"/>
</g></svg></svg>
<!-- /GRID -->
</body>
</html>
